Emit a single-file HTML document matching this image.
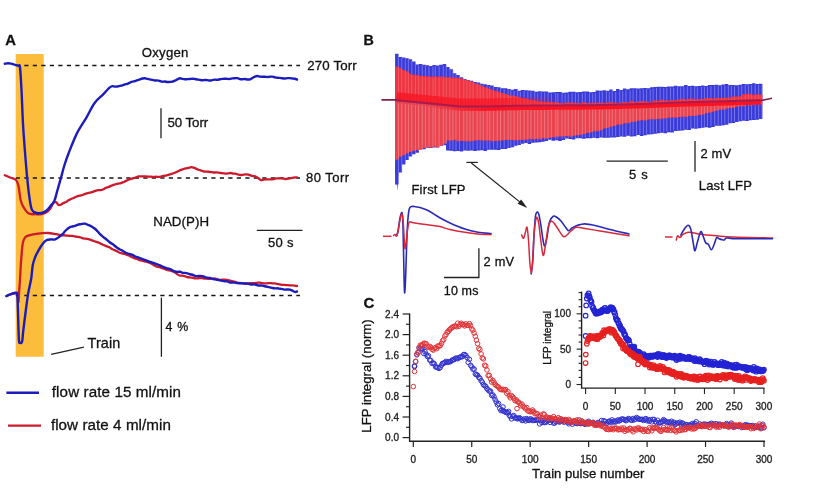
<!DOCTYPE html>
<html><head><meta charset="utf-8"><title>Figure</title>
<style>html,body{margin:0;padding:0;background:#fff;width:840px;height:500px;overflow:hidden} svg{display:block;will-change:transform} text{stroke:#111;stroke-width:0.3px;paint-order:stroke}</style>
</head><body>
<svg width="840" height="500" viewBox="0 0 840 500"><text x="5.2" y="45.2" font-family="Liberation Sans, Arial, sans-serif" font-size="14.8" font-weight="bold" fill="#111">A</text>
<rect x="15.7" y="54" width="28" height="302.7" fill="#FCBC3C"/>
<line x1="15.8" y1="65.4" x2="300" y2="65.4" stroke="#151515" stroke-width="1.5" stroke-dasharray="4.2 4.3"/>
<line x1="15.8" y1="178.0" x2="300" y2="178.0" stroke="#151515" stroke-width="1.5" stroke-dasharray="4.2 4.3"/>
<line x1="15.8" y1="295.5" x2="300" y2="295.5" stroke="#151515" stroke-width="1.5" stroke-dasharray="4.2 4.3"/>
<text x="141.8" y="56.7" font-family="Liberation Sans, Arial, sans-serif" font-size="13.2" letter-spacing="0.22" fill="#111">Oxygen</text>
<text x="307.2" y="69.8" font-family="Liberation Sans, Arial, sans-serif" font-size="13.3" letter-spacing="0.15" fill="#111">270 Torr</text>
<text x="306" y="182.4" font-family="Liberation Sans, Arial, sans-serif" font-size="13" letter-spacing="0.48" fill="#111">80 Torr</text>
<line x1="161" y1="108.2" x2="161" y2="138.3" stroke="#222" stroke-width="1.3"/>
<text x="167.4" y="126.5" font-family="Liberation Sans, Arial, sans-serif" font-size="13.3" letter-spacing="-0.05" fill="#111">50 Torr</text>
<text x="153.2" y="225.9" font-family="Liberation Sans, Arial, sans-serif" font-size="13.3" letter-spacing="0.1" fill="#111">NAD(P)H</text>
<line x1="256.8" y1="230.4" x2="302.5" y2="230.4" stroke="#222" stroke-width="1.3"/>
<text x="268" y="246.8" font-family="Liberation Sans, Arial, sans-serif" font-size="13" letter-spacing="0.3" fill="#111">50 s</text>
<line x1="161.4" y1="297.6" x2="161.4" y2="356.8" stroke="#222" stroke-width="1.3"/>
<text x="165.5" y="331.2" font-family="Liberation Sans, Arial, sans-serif" font-size="12.4" letter-spacing="0.7" fill="#111">4 %</text>
<text x="87.6" y="348" font-family="Liberation Sans, Arial, sans-serif" font-size="14.4" letter-spacing="0.1" fill="#111">Train</text>
<line x1="51.2" y1="354.3" x2="83.9" y2="347.2" stroke="#222" stroke-width="1.2"/>
<line x1="6.4" y1="392.7" x2="39" y2="392.7" stroke="#1c1cbc" stroke-width="2.4"/>
<text x="51.8" y="396.9" font-family="Liberation Sans, Arial, sans-serif" font-size="15.2" letter-spacing="0.1" fill="#111">flow rate 15 ml/min</text>
<line x1="8" y1="425.6" x2="41" y2="425.6" stroke="#cc1a2c" stroke-width="2.4"/>
<text x="50.9" y="430.1" font-family="Liberation Sans, Arial, sans-serif" font-size="15.2" letter-spacing="0.06" fill="#111">flow rate 4 ml/min</text>
<path d="M4.80,175.20 C5.67,175.58 8.13,176.70 10.00,177.50 C11.87,178.30 14.58,178.58 16.00,180.00 C17.42,181.42 17.70,182.53 18.50,186.00 C19.30,189.47 19.88,197.13 20.80,200.80 C21.72,204.47 22.67,205.87 24.00,208.00 C25.33,210.13 26.97,212.57 28.80,213.60 C30.63,214.63 32.87,214.13 35.00,214.20 C37.13,214.27 39.77,214.28 41.60,214.00 C43.43,213.72 44.60,213.33 46.00,212.50 C47.40,211.67 48.92,210.33 50.00,209.00 C51.08,207.67 51.75,205.67 52.50,204.50 C53.25,203.33 53.83,202.33 54.50,202.00 C55.17,201.67 55.82,202.00 56.50,202.50 C57.18,203.00 57.85,204.65 58.60,205.00 C59.35,205.35 60.18,204.92 61.00,204.59 C61.82,204.26 62.67,203.42 63.50,203.00 C64.33,202.58 65.17,202.51 66.00,202.06 C66.83,201.61 67.67,200.82 68.50,200.31 C69.33,199.80 70.17,199.38 71.00,198.99 C71.83,198.61 72.67,198.38 73.50,198.01 C74.33,197.64 75.17,197.11 76.00,196.77 C76.83,196.43 77.67,196.19 78.50,195.97 C79.33,195.75 80.17,195.67 81.00,195.43 C81.83,195.20 82.67,194.86 83.50,194.56 C84.33,194.25 85.17,193.87 86.00,193.60 C86.83,193.33 87.67,193.18 88.50,192.96 C89.33,192.73 90.17,192.49 91.00,192.27 C91.83,192.04 92.67,191.89 93.50,191.61 C94.33,191.32 95.17,190.79 96.00,190.54 C96.83,190.30 97.67,190.22 98.50,190.14 C99.33,190.06 100.17,190.21 101.00,190.06 C101.83,189.90 102.67,189.62 103.50,189.22 C104.33,188.82 105.17,188.06 106.00,187.68 C106.83,187.31 107.67,187.27 108.50,186.97 C109.33,186.67 110.17,186.23 111.00,185.89 C111.83,185.55 112.67,185.23 113.50,184.94 C114.33,184.65 115.17,184.39 116.00,184.16 C116.83,183.94 117.67,183.77 118.50,183.59 C119.33,183.41 120.17,183.35 121.00,183.10 C121.83,182.84 122.67,182.46 123.50,182.09 C124.33,181.71 125.17,181.24 126.00,180.85 C126.83,180.45 127.67,180.06 128.50,179.73 C129.33,179.41 130.17,179.18 131.00,178.91 C131.83,178.64 132.67,178.38 133.50,178.12 C134.33,177.86 135.17,177.63 136.00,177.35 C136.83,177.06 137.67,176.55 138.50,176.40 C139.33,176.25 140.17,176.42 141.00,176.43 C141.83,176.44 142.67,176.46 143.50,176.47 C144.33,176.48 145.17,176.48 146.00,176.50 C146.83,176.52 147.67,176.55 148.50,176.58 C149.33,176.61 150.17,176.65 151.00,176.70 C151.83,176.74 152.67,176.86 153.50,176.87 C154.33,176.88 155.17,176.73 156.00,176.74 C156.83,176.74 157.67,176.92 158.50,176.89 C159.33,176.85 160.17,176.67 161.00,176.51 C161.83,176.36 162.67,176.14 163.50,175.98 C164.33,175.81 165.17,175.69 166.00,175.52 C166.83,175.34 167.67,175.18 168.50,174.93 C169.33,174.68 170.17,174.30 171.00,174.02 C171.83,173.75 172.67,173.57 173.50,173.28 C174.33,172.98 175.17,172.64 176.00,172.27 C176.83,171.89 177.67,171.43 178.50,171.02 C179.33,170.61 180.17,170.15 181.00,169.82 C181.83,169.48 182.67,169.25 183.50,169.01 C184.33,168.77 185.17,168.58 186.00,168.39 C186.83,168.20 187.67,168.06 188.50,167.86 C189.33,167.66 190.17,167.23 191.00,167.19 C191.83,167.15 192.67,167.37 193.50,167.61 C194.33,167.85 195.17,168.27 196.00,168.64 C196.83,169.00 197.67,169.47 198.50,169.78 C199.33,170.09 200.17,170.22 201.00,170.48 C201.83,170.74 202.67,171.17 203.50,171.36 C204.33,171.55 205.17,171.53 206.00,171.59 C206.83,171.66 207.67,171.67 208.50,171.75 C209.33,171.83 210.17,171.94 211.00,172.06 C211.83,172.19 212.67,172.43 213.50,172.49 C214.33,172.56 215.17,172.44 216.00,172.45 C216.83,172.45 217.67,172.42 218.50,172.52 C219.33,172.61 220.17,172.87 221.00,173.00 C221.83,173.13 222.67,173.18 223.50,173.29 C224.33,173.40 225.17,173.64 226.00,173.65 C226.83,173.66 227.67,173.47 228.50,173.37 C229.33,173.26 230.17,172.95 231.00,173.01 C231.83,173.06 232.67,173.55 233.50,173.68 C234.33,173.81 235.17,173.61 236.00,173.77 C236.83,173.94 237.67,174.45 238.50,174.66 C239.33,174.87 240.17,175.04 241.00,175.02 C241.83,175.00 242.67,174.67 243.50,174.55 C244.33,174.43 245.17,174.31 246.00,174.31 C246.83,174.31 247.67,174.35 248.50,174.56 C249.33,174.77 250.17,175.34 251.00,175.59 C251.83,175.85 252.67,175.89 253.50,176.10 C254.33,176.30 255.17,176.43 256.00,176.80 C256.83,177.17 257.67,177.77 258.50,178.32 C259.33,178.86 260.17,179.85 261.00,180.07 C261.83,180.30 262.67,179.77 263.50,179.67 C264.33,179.57 265.17,179.50 266.00,179.45 C266.83,179.39 267.67,179.37 268.50,179.34 C269.33,179.32 270.17,179.34 271.00,179.29 C271.83,179.24 272.67,179.17 273.50,179.04 C274.33,178.90 275.17,178.58 276.00,178.48 C276.83,178.39 277.67,178.47 278.50,178.45 C279.33,178.44 280.17,178.38 281.00,178.40 C281.83,178.42 282.67,178.48 283.50,178.58 C284.33,178.68 285.17,178.99 286.00,178.98 C286.83,178.98 287.67,178.70 288.50,178.55 C289.33,178.41 290.17,178.26 291.00,178.11 C291.83,177.96 292.67,177.77 293.50,177.64 C294.33,177.51 295.42,177.36 296.00,177.32 C296.58,177.28 296.83,177.39 297.00,177.40" fill="none" stroke="#cc1a2c" stroke-width="2.3" stroke-linejoin="round" stroke-linecap="round"/>
<path d="M4.80,63.80 C5.33,63.70 6.97,63.23 8.00,63.20 C9.03,63.17 9.83,63.33 11.00,63.60 C12.17,63.87 13.75,64.43 15.00,64.80 C16.25,65.17 17.67,65.35 18.50,65.80 C19.33,66.25 19.50,63.47 20.00,67.50 C20.50,71.53 21.00,80.58 21.50,90.00 C22.00,99.42 22.42,113.67 23.00,124.00 C23.58,134.33 24.30,143.00 25.00,152.00 C25.70,161.00 26.45,170.33 27.20,178.00 C27.95,185.67 28.70,192.67 29.50,198.00 C30.30,203.33 30.78,207.50 32.00,210.00 C33.22,212.50 35.20,212.50 36.80,213.00 C38.40,213.50 40.07,213.33 41.60,213.00 C43.13,212.67 44.52,212.17 46.00,211.00 C47.48,209.83 49.10,207.70 50.50,206.00 C51.90,204.30 53.23,203.47 54.40,200.80 C55.57,198.13 56.43,193.73 57.50,190.00 C58.57,186.27 59.63,182.57 60.80,178.40 C61.97,174.23 63.17,169.27 64.50,165.00 C65.83,160.73 66.75,158.03 68.80,152.80 C70.85,147.57 73.87,139.47 76.80,133.60 C79.73,127.73 83.47,122.67 86.40,117.60 C89.33,112.53 91.73,106.94 94.40,103.20 C97.07,99.46 100.65,96.95 102.40,95.18 C104.15,93.41 104.07,93.47 104.90,92.56 C105.73,91.66 106.57,90.61 107.40,89.74 C108.23,88.88 109.07,87.98 109.90,87.38 C110.73,86.78 111.57,86.28 112.40,86.15 C113.23,86.03 114.07,86.58 114.90,86.64 C115.73,86.70 116.57,86.64 117.40,86.51 C118.23,86.38 119.07,86.05 119.90,85.85 C120.73,85.65 121.57,85.56 122.40,85.31 C123.23,85.05 124.07,84.56 124.90,84.31 C125.73,84.06 126.57,84.11 127.40,83.83 C128.23,83.54 129.07,82.98 129.90,82.61 C130.73,82.24 131.57,81.85 132.40,81.60 C133.23,81.36 134.07,81.36 134.90,81.13 C135.73,80.90 136.57,80.51 137.40,80.22 C138.23,79.92 139.07,79.62 139.90,79.33 C140.73,79.05 141.57,78.71 142.40,78.52 C143.23,78.33 144.07,78.13 144.90,78.19 C145.73,78.25 146.57,78.66 147.40,78.87 C148.23,79.07 149.07,79.24 149.90,79.41 C150.73,79.59 151.57,79.73 152.40,79.92 C153.23,80.10 154.07,80.43 154.90,80.51 C155.73,80.59 156.57,80.31 157.40,80.39 C158.23,80.47 159.07,80.77 159.90,80.99 C160.73,81.20 161.57,81.59 162.40,81.68 C163.23,81.76 164.07,81.45 164.90,81.50 C165.73,81.55 166.57,81.91 167.40,81.98 C168.23,82.05 169.07,81.97 169.90,81.92 C170.73,81.86 171.57,81.86 172.40,81.66 C173.23,81.46 174.07,81.09 174.90,80.72 C175.73,80.34 176.57,79.80 177.40,79.40 C178.23,78.99 179.07,78.34 179.90,78.26 C180.73,78.19 181.57,78.76 182.40,78.93 C183.23,79.09 184.07,79.20 184.90,79.24 C185.73,79.27 186.57,79.20 187.40,79.16 C188.23,79.12 189.07,79.08 189.90,79.01 C190.73,78.93 191.57,78.69 192.40,78.69 C193.23,78.70 194.07,78.91 194.90,79.04 C195.73,79.16 196.57,79.31 197.40,79.46 C198.23,79.61 199.07,79.80 199.90,79.94 C200.73,80.08 201.57,80.28 202.40,80.29 C203.23,80.30 204.07,80.04 204.90,80.01 C205.73,79.97 206.57,79.98 207.40,80.07 C208.23,80.17 209.07,80.57 209.90,80.57 C210.73,80.58 211.57,80.25 212.40,80.10 C213.23,79.95 214.07,79.72 214.90,79.67 C215.73,79.63 216.57,79.90 217.40,79.84 C218.23,79.78 219.07,79.46 219.90,79.30 C220.73,79.15 221.57,79.02 222.40,78.92 C223.23,78.82 224.07,78.72 224.90,78.71 C225.73,78.71 226.57,78.87 227.40,78.90 C228.23,78.93 229.07,78.96 229.90,78.88 C230.73,78.80 231.57,78.53 232.40,78.41 C233.23,78.30 234.07,78.25 234.90,78.21 C235.73,78.16 236.57,78.02 237.40,78.17 C238.23,78.32 239.07,78.91 239.90,79.09 C240.73,79.26 241.57,79.25 242.40,79.24 C243.23,79.22 244.07,78.97 244.90,79.01 C245.73,79.05 246.57,79.41 247.40,79.47 C248.23,79.54 249.07,79.66 249.90,79.42 C250.73,79.18 251.57,78.52 252.40,78.04 C253.23,77.57 254.07,76.90 254.90,76.57 C255.73,76.23 256.57,76.05 257.40,76.05 C258.23,76.05 259.07,76.47 259.90,76.58 C260.73,76.69 261.57,76.70 262.40,76.73 C263.23,76.75 264.07,76.69 264.90,76.73 C265.73,76.78 266.57,77.01 267.40,77.01 C268.23,77.01 269.07,76.80 269.90,76.73 C270.73,76.66 271.57,76.51 272.40,76.60 C273.23,76.70 274.07,77.10 274.90,77.30 C275.73,77.49 276.57,77.68 277.40,77.78 C278.23,77.89 279.07,77.84 279.90,77.93 C280.73,78.02 281.57,78.22 282.40,78.31 C283.23,78.41 284.07,78.51 284.90,78.48 C285.73,78.46 286.57,78.22 287.40,78.17 C288.23,78.11 289.07,78.11 289.90,78.17 C290.73,78.23 291.57,78.43 292.40,78.53 C293.23,78.63 294.13,78.59 294.90,78.75 C295.67,78.92 296.65,79.38 297.00,79.50" fill="none" stroke="#1c1cbc" stroke-width="2.4" stroke-linejoin="round" stroke-linecap="round"/>
<path d="M6.40,296.20 C7.00,295.92 8.40,294.98 10.00,294.50 C11.60,294.02 14.70,293.05 16.00,293.30 C17.30,293.55 17.38,294.55 17.80,296.00 C18.22,297.45 18.28,302.67 18.50,302.00 C18.72,301.33 18.85,295.67 19.10,292.00 C19.35,288.33 19.72,284.50 20.00,280.00 C20.28,275.50 20.40,270.70 20.80,265.00 C21.20,259.30 21.87,250.07 22.40,245.80 C22.93,241.53 23.33,241.00 24.00,239.40 C24.67,237.80 25.07,237.00 26.40,236.20 C27.73,235.40 29.73,235.08 32.00,234.60 C34.27,234.12 37.33,233.57 40.00,233.30 C42.67,233.03 45.33,232.85 48.00,233.00 C50.67,233.15 53.67,233.80 56.00,234.20 C58.33,234.60 60.58,235.23 62.00,235.41 C63.42,235.60 63.67,235.29 64.50,235.32 C65.33,235.35 66.17,235.48 67.00,235.58 C67.83,235.68 68.67,235.84 69.50,235.91 C70.33,235.97 71.17,235.90 72.00,235.98 C72.83,236.06 73.67,236.24 74.50,236.37 C75.33,236.50 76.17,236.63 77.00,236.74 C77.83,236.85 78.67,236.80 79.50,237.02 C80.33,237.24 81.17,237.81 82.00,238.07 C82.83,238.33 83.67,238.48 84.50,238.60 C85.33,238.71 86.17,238.65 87.00,238.77 C87.83,238.89 88.67,239.07 89.50,239.34 C90.33,239.61 91.17,240.08 92.00,240.40 C92.83,240.72 93.67,240.97 94.50,241.25 C95.33,241.53 96.17,241.80 97.00,242.08 C97.83,242.36 98.67,242.56 99.50,242.94 C100.33,243.31 101.17,243.92 102.00,244.33 C102.83,244.74 103.67,245.07 104.50,245.41 C105.33,245.75 106.17,246.06 107.00,246.38 C107.83,246.71 108.67,246.91 109.50,247.36 C110.33,247.81 111.17,248.63 112.00,249.09 C112.83,249.54 113.67,249.74 114.50,250.09 C115.33,250.44 116.17,250.74 117.00,251.19 C117.83,251.64 118.67,252.42 119.50,252.78 C120.33,253.13 121.17,253.16 122.00,253.34 C122.83,253.52 123.67,253.62 124.50,253.87 C125.33,254.12 126.17,254.54 127.00,254.85 C127.83,255.17 128.67,255.33 129.50,255.74 C130.33,256.15 131.17,256.93 132.00,257.34 C132.83,257.75 133.67,257.93 134.50,258.22 C135.33,258.50 136.17,258.72 137.00,259.03 C137.83,259.34 138.67,259.82 139.50,260.07 C140.33,260.33 141.17,260.30 142.00,260.53 C142.83,260.77 143.67,261.24 144.50,261.48 C145.33,261.71 146.17,261.70 147.00,261.93 C147.83,262.16 148.67,262.52 149.50,262.86 C150.33,263.20 151.17,263.52 152.00,263.98 C152.83,264.44 153.67,265.15 154.50,265.60 C155.33,266.04 156.17,266.39 157.00,266.65 C157.83,266.90 158.67,266.89 159.50,267.13 C160.33,267.37 161.17,267.79 162.00,268.08 C162.83,268.38 163.67,268.60 164.50,268.89 C165.33,269.19 166.17,269.60 167.00,269.87 C167.83,270.14 168.67,270.29 169.50,270.49 C170.33,270.70 171.17,270.83 172.00,271.11 C172.83,271.39 173.67,271.72 174.50,272.19 C175.33,272.67 176.17,273.40 177.00,273.94 C177.83,274.49 178.67,275.18 179.50,275.47 C180.33,275.75 181.17,275.57 182.00,275.67 C182.83,275.76 183.67,275.82 184.50,276.04 C185.33,276.27 186.17,276.82 187.00,277.03 C187.83,277.25 188.67,277.22 189.50,277.34 C190.33,277.45 191.17,277.56 192.00,277.71 C192.83,277.86 193.67,278.16 194.50,278.26 C195.33,278.35 196.17,278.31 197.00,278.30 C197.83,278.28 198.67,278.20 199.50,278.17 C200.33,278.13 201.17,278.02 202.00,278.07 C202.83,278.12 203.67,278.39 204.50,278.49 C205.33,278.59 206.17,278.60 207.00,278.67 C207.83,278.73 208.67,278.88 209.50,278.87 C210.33,278.86 211.17,278.69 212.00,278.62 C212.83,278.56 213.67,278.37 214.50,278.46 C215.33,278.56 216.17,278.97 217.00,279.21 C217.83,279.45 218.67,279.82 219.50,279.90 C220.33,279.98 221.17,279.74 222.00,279.69 C222.83,279.63 223.67,279.54 224.50,279.57 C225.33,279.61 226.17,279.75 227.00,279.90 C227.83,280.05 228.67,280.28 229.50,280.48 C230.33,280.68 231.17,280.92 232.00,281.12 C232.83,281.32 233.67,281.43 234.50,281.69 C235.33,281.95 236.17,282.46 237.00,282.67 C237.83,282.89 238.67,282.89 239.50,282.97 C240.33,283.05 241.17,283.04 242.00,283.13 C242.83,283.23 243.67,283.47 244.50,283.53 C245.33,283.60 246.17,283.59 247.00,283.52 C247.83,283.45 248.67,283.17 249.50,283.11 C250.33,283.04 251.17,283.12 252.00,283.14 C252.83,283.15 253.67,283.26 254.50,283.21 C255.33,283.16 256.17,282.96 257.00,282.85 C257.83,282.75 258.67,282.52 259.50,282.56 C260.33,282.60 261.17,282.96 262.00,283.10 C262.83,283.23 263.67,283.34 264.50,283.37 C265.33,283.40 266.17,283.34 267.00,283.30 C267.83,283.25 268.67,283.11 269.50,283.11 C270.33,283.12 271.17,283.25 272.00,283.31 C272.83,283.37 273.67,283.37 274.50,283.45 C275.33,283.53 276.17,283.63 277.00,283.80 C277.83,283.96 278.67,284.26 279.50,284.43 C280.33,284.60 281.17,284.75 282.00,284.83 C282.83,284.90 283.67,284.85 284.50,284.90 C285.33,284.94 286.17,285.02 287.00,285.09 C287.83,285.17 288.67,285.29 289.50,285.35 C290.33,285.41 291.17,285.41 292.00,285.46 C292.83,285.52 293.67,285.59 294.50,285.68 C295.33,285.77 296.58,285.95 297.00,286.00" fill="none" stroke="#cc1a2c" stroke-width="2.3" stroke-linejoin="round" stroke-linecap="round"/>
<path d="M6.40,296.00 C6.93,295.78 8.00,295.23 9.60,294.70 C11.20,294.17 14.72,292.72 16.00,292.80 C17.28,292.88 16.97,292.00 17.30,295.20 C17.63,298.40 17.73,304.65 18.00,312.00 C18.27,319.35 18.57,334.17 18.90,339.30 C19.23,344.43 19.47,342.40 20.00,342.80 C20.53,343.20 21.57,343.62 22.10,341.70 C22.63,339.78 22.62,336.25 23.20,331.30 C23.78,326.35 24.80,318.15 25.60,312.00 C26.40,305.85 27.33,298.67 28.00,294.40 C28.67,290.13 29.05,289.13 29.60,286.40 C30.15,283.67 30.77,281.57 31.30,278.00 C31.83,274.43 32.15,268.50 32.80,265.00 C33.45,261.50 34.27,259.40 35.20,257.00 C36.13,254.60 37.20,252.73 38.40,250.60 C39.60,248.47 41.07,245.93 42.40,244.20 C43.73,242.47 44.93,241.00 46.40,240.20 C47.87,239.40 49.73,239.53 51.20,239.40 C52.67,239.27 53.73,239.91 55.20,239.40 C56.67,238.89 58.78,237.21 60.00,236.34 C61.22,235.47 61.67,235.02 62.50,234.18 C63.33,233.33 64.17,232.13 65.00,231.25 C65.83,230.38 66.67,229.61 67.50,228.91 C68.33,228.21 69.17,227.48 70.00,227.08 C70.83,226.68 71.67,226.68 72.50,226.48 C73.33,226.28 74.17,226.14 75.00,225.88 C75.83,225.62 76.67,225.17 77.50,224.90 C78.33,224.63 79.17,224.43 80.00,224.26 C80.83,224.08 81.67,223.92 82.50,223.83 C83.33,223.73 84.17,223.54 85.00,223.68 C85.83,223.83 86.67,224.40 87.50,224.72 C88.33,225.03 89.17,225.19 90.00,225.57 C90.83,225.96 91.67,226.52 92.50,227.04 C93.33,227.57 94.17,228.03 95.00,228.74 C95.83,229.45 96.67,230.41 97.50,231.31 C98.33,232.21 99.17,233.31 100.00,234.16 C100.83,235.00 101.67,235.71 102.50,236.40 C103.33,237.08 104.17,237.61 105.00,238.27 C105.83,238.93 106.67,239.63 107.50,240.34 C108.33,241.06 109.17,241.92 110.00,242.54 C110.83,243.17 111.67,243.52 112.50,244.10 C113.33,244.68 114.17,245.39 115.00,246.04 C115.83,246.69 116.67,247.42 117.50,248.00 C118.33,248.58 119.17,249.04 120.00,249.50 C120.83,249.96 121.67,250.29 122.50,250.74 C123.33,251.20 124.17,251.78 125.00,252.23 C125.83,252.67 126.67,253.11 127.50,253.42 C128.33,253.73 129.17,253.84 130.00,254.10 C130.83,254.35 131.67,254.58 132.50,254.96 C133.33,255.33 134.17,255.99 135.00,256.34 C135.83,256.70 136.67,256.80 137.50,257.08 C138.33,257.36 139.17,257.68 140.00,258.01 C140.83,258.33 141.67,258.73 142.50,259.05 C143.33,259.37 144.17,259.64 145.00,259.95 C145.83,260.25 146.67,260.54 147.50,260.88 C148.33,261.22 149.17,261.69 150.00,261.97 C150.83,262.25 151.67,262.31 152.50,262.56 C153.33,262.82 154.17,263.21 155.00,263.53 C155.83,263.85 156.67,264.18 157.50,264.48 C158.33,264.79 159.17,265.01 160.00,265.35 C160.83,265.69 161.67,266.16 162.50,266.53 C163.33,266.90 164.17,267.25 165.00,267.56 C165.83,267.86 166.67,268.08 167.50,268.35 C168.33,268.63 169.17,268.86 170.00,269.18 C170.83,269.51 171.67,269.93 172.50,270.32 C173.33,270.71 174.17,271.25 175.00,271.50 C175.83,271.75 176.67,271.78 177.50,271.83 C178.33,271.87 179.17,271.60 180.00,271.77 C180.83,271.94 181.67,272.66 182.50,272.84 C183.33,273.02 184.17,272.80 185.00,272.88 C185.83,272.95 186.67,273.07 187.50,273.29 C188.33,273.52 189.17,273.98 190.00,274.23 C190.83,274.47 191.67,274.48 192.50,274.76 C193.33,275.04 194.17,275.67 195.00,275.90 C195.83,276.13 196.67,276.15 197.50,276.15 C198.33,276.15 199.17,275.91 200.00,275.90 C200.83,275.88 201.67,275.87 202.50,276.06 C203.33,276.25 204.17,276.74 205.00,277.02 C205.83,277.30 206.67,277.57 207.50,277.74 C208.33,277.91 209.17,277.84 210.00,278.04 C210.83,278.24 211.67,278.73 212.50,278.96 C213.33,279.19 214.17,279.24 215.00,279.39 C215.83,279.54 216.67,279.72 217.50,279.86 C218.33,280.01 219.17,280.08 220.00,280.26 C220.83,280.44 221.67,280.76 222.50,280.93 C223.33,281.10 224.17,281.20 225.00,281.28 C225.83,281.36 226.67,281.20 227.50,281.41 C228.33,281.62 229.17,282.36 230.00,282.54 C230.83,282.71 231.67,282.45 232.50,282.46 C233.33,282.48 234.17,282.54 235.00,282.65 C235.83,282.77 236.67,283.08 237.50,283.17 C238.33,283.26 239.17,283.15 240.00,283.19 C240.83,283.22 241.67,283.31 242.50,283.37 C243.33,283.43 244.17,283.50 245.00,283.54 C245.83,283.57 246.67,283.46 247.50,283.60 C248.33,283.74 249.17,284.24 250.00,284.38 C250.83,284.52 251.67,284.44 252.50,284.45 C253.33,284.46 254.17,284.32 255.00,284.45 C255.83,284.57 256.67,285.03 257.50,285.21 C258.33,285.39 259.17,285.44 260.00,285.51 C260.83,285.58 261.67,285.50 262.50,285.63 C263.33,285.75 264.17,286.07 265.00,286.27 C265.83,286.47 266.67,286.65 267.50,286.83 C268.33,287.02 269.17,287.21 270.00,287.40 C270.83,287.58 271.67,287.80 272.50,287.95 C273.33,288.11 274.17,288.28 275.00,288.34 C275.83,288.40 276.67,288.25 277.50,288.32 C278.33,288.39 279.17,288.62 280.00,288.75 C280.83,288.88 281.67,288.94 282.50,289.08 C283.33,289.22 284.17,289.52 285.00,289.58 C285.83,289.65 286.67,289.46 287.50,289.46 C288.33,289.46 289.17,289.38 290.00,289.58 C290.83,289.79 291.67,290.32 292.50,290.71 C293.33,291.10 294.25,291.78 295.00,291.91 C295.75,292.04 296.67,291.57 297.00,291.50" fill="none" stroke="#1c1cbc" stroke-width="2.4" stroke-linejoin="round" stroke-linecap="round"/>
<text x="363.6" y="45.2" font-family="Liberation Sans, Arial, sans-serif" font-size="14.3" font-weight="bold" fill="#111">B</text>
<path d="M396.80,53.87V184.57M400.20,56.98V172.42M403.60,57.58V164.48M407.00,58.17V160.10M410.40,59.32V156.60M413.80,61.56V154.20M417.20,64.45V152.76M420.60,64.03V149.21M424.00,64.74V149.16M427.40,65.26V147.87M430.80,65.91V147.96M434.20,65.05V147.62M437.60,65.53V147.47M441.00,64.66V146.09M444.40,63.94V145.16M447.80,67.09V150.40M451.20,69.26V150.83M454.60,73.13V151.32M458.00,75.04V151.07M461.40,77.27V151.40M464.80,78.93V150.47M468.20,79.89V150.63M471.60,80.71V150.62M475.00,81.99V150.90M478.40,82.41V150.58M481.80,83.65V150.24M485.20,84.28V150.89M488.60,84.97V149.80M492.00,85.62V149.87M495.40,87.09V149.86M498.80,87.27V149.98M502.20,88.32V149.01M505.60,88.23V149.03M509.00,88.91V148.10M512.40,89.67V147.36M515.80,89.07V145.73M519.20,90.80V145.11M522.60,89.97V143.70M526.00,90.32V142.98M529.40,90.45V143.89M532.80,90.84V142.64M536.20,91.72V142.53M539.60,91.14V142.32M543.00,91.59V141.71M546.40,91.40V140.95M549.80,92.38V139.69M553.20,92.23V140.77M556.60,92.00V140.37M560.00,91.92V140.98M563.40,92.68V140.00M566.80,92.55V138.58M570.20,91.73V139.03M573.60,91.71V139.57M577.00,92.31V138.24M580.40,92.02V138.24M583.80,91.56V138.83M587.20,91.57V138.33M590.60,92.31V138.15M594.00,92.08V137.63M597.40,90.60V138.14M600.80,90.73V137.46M604.20,90.30V137.71M607.60,90.75V137.78M611.00,89.49V137.58M614.40,90.96V137.45M617.80,89.00V137.06M621.20,90.04V136.42M624.60,88.60V136.69M628.00,89.21V135.65M631.40,88.32V136.43M634.80,88.28V136.20M638.20,88.52V135.05M641.60,88.19V136.09M645.00,87.88V135.25M648.40,88.20V134.60M651.80,87.36V134.26M655.20,86.91V133.83M658.60,86.63V133.13M662.00,86.85V132.75M665.40,87.09V133.27M668.80,86.46V132.36M672.20,86.53V132.38M675.60,85.84V130.97M679.00,86.24V130.64M682.40,86.18V130.40M685.80,85.07V129.69M689.20,86.06V130.07M692.60,85.71V128.55M696.00,86.35V128.64M699.40,85.91V128.23M702.80,85.61V127.79M706.20,85.91V127.27M709.60,85.07V127.70M713.00,84.93V127.09M716.40,84.74V125.69M719.80,85.19V125.72M723.20,84.47V125.24M726.60,84.01V124.63M730.00,85.10V123.17M733.40,85.06V123.07M736.80,85.13V121.98M740.20,84.65V121.34M743.60,84.02V120.81M747.00,84.32V120.93M750.40,83.91V120.30M753.80,83.24V119.89M757.20,83.92V119.65M760.60,83.66V119.09" stroke="#3a3ad8" stroke-width="3.4499999999999997" fill="none"/>
<polygon points="395.3,165 399,165 397.3,191" fill="#3a3ad8"/>
<path d="M398.42,54.87V183.40M401.76,57.98V171.45M405.32,58.58V163.13M408.37,59.17V159.32M411.79,60.32V155.68M415.43,62.56V152.95M418.66,65.45V150.97M422.26,65.03V148.58M425.52,65.74V147.90M429.02,66.26V147.22M432.95,66.91V146.62M435.33,66.05V146.28M439.10,66.53V145.94M443.28,65.66V145.03M446.25,64.94V143.80M449.92,68.09V149.14M452.94,70.26V149.73M456.01,74.13V150.33M459.53,76.04V150.27M463.75,78.27V150.13M466.87,79.93V149.99M469.99,80.89V149.84M473.09,81.71V149.70M477.10,82.99V149.56M480.17,83.41V149.41M483.28,84.65V149.27M487.07,85.28V149.12M489.80,85.97V148.98M493.49,86.62V148.84M497.25,88.09V148.69M500.50,88.27V148.55M504.20,89.32V148.30M508.10,89.23V148.00M510.81,89.91V147.69M514.06,90.67V146.62M517.69,90.07V145.22M520.29,91.80V143.83M524.13,90.97V143.11M527.83,91.32V142.60M530.94,91.45V142.09M534.73,91.84V141.58M537.78,92.72V141.07M541.20,92.14V140.56M544.63,92.59V140.28M548.05,92.40V140.02M551.41,93.38V139.77M555.74,93.23V139.51M557.91,93.00V139.26M562.03,92.92V139.00M565.15,93.68V138.76M568.23,93.55V138.52M572.09,92.73V138.29M575.41,92.71V138.05M578.35,93.31V137.81M582.31,93.02V137.59M585.31,92.56V137.47M589.45,92.57V137.35M592.68,93.31V137.23M595.37,93.08V137.11M599.37,91.60V136.99M602.25,91.73V136.87M606.39,91.30V136.73M609.25,91.75V136.60M612.26,90.49V136.46M615.70,91.96V136.32M619.74,90.00V136.19M622.73,91.04V136.02M626.03,89.60V135.78M630.09,90.21V135.54M633.08,89.32V135.30M636.54,89.28V135.06M639.99,89.52V134.83M643.38,89.19V134.49M646.60,88.88V134.05M650.26,89.20V133.61M653.10,88.36V133.17M656.51,87.91V132.72M660.15,87.63V132.28M663.73,87.85V131.86M666.81,88.09V131.45M670.57,87.46V131.04M673.69,87.53V130.64M677.52,86.84V130.23M680.71,87.24V129.82M683.89,87.18V129.41M687.35,86.07V129.00M690.89,87.06V128.60M694.68,86.71V128.19M697.29,87.35V127.78M701.46,86.91V127.37M704.38,86.61V126.91M707.46,86.91V126.43M710.97,86.07V125.96M714.70,85.93V125.48M718.20,85.74V125.00M721.48,86.19V124.53M724.80,85.47V123.89M728.34,85.01V123.25M731.38,86.10V122.60M734.51,86.06V121.95M738.63,86.13V121.31M741.69,85.65V120.67M745.25,85.02V120.21M748.49,85.32V119.76M751.58,84.91V119.30M755.20,84.24V118.84M758.66,84.92V118.38M762.08,84.66V117.92" stroke="#8c8cf4" stroke-width="0.9" fill="none" opacity="0.8"/>
<path d="M396.80,66.47V101.28M400.20,67.79V101.60M403.60,69.97V101.93M407.00,71.17V102.25M410.40,73.85V102.58M413.80,74.79V102.91M417.20,75.05V103.23M420.60,75.63V103.56M424.00,76.02V103.90M427.40,76.33V104.24M430.80,76.84V104.58M434.20,76.15V104.92M437.60,76.77V105.26M441.00,76.61V105.60M444.40,76.99V105.94M447.80,77.21V106.28M451.20,77.54V106.62M454.60,77.53V106.96M458.00,77.95V107.30M461.40,78.59V107.51M464.80,79.68V107.52M468.20,80.33V107.54M471.60,81.52V107.56M475.00,83.15V107.57M478.40,84.13V107.59M481.80,85.77V107.56M485.20,87.22V107.48M488.60,88.53V107.41M492.00,89.60V107.33M495.40,90.81V107.25M498.80,91.78V107.18M502.20,93.12V107.10M505.60,93.87V107.02M509.00,95.18V106.95M512.40,95.45V106.87M515.80,96.35V106.79M519.20,97.05V106.72M522.60,98.01V106.68M526.00,98.59V106.66M529.40,99.69V106.63M532.80,100.02V106.60M536.20,100.69V106.58M539.60,101.28V106.55M543.00,101.69V106.53M546.40,101.69V106.50M549.80,102.09V106.48M553.20,102.21V106.45M556.60,102.36V106.43M560.00,103.02V106.40M563.40,103.35V106.37M566.80,102.58V106.35M570.20,102.58V106.32M573.60,102.73V106.30M577.00,103.06V106.27M580.40,103.34V106.25M583.80,102.32V106.22M587.20,103.09V106.20M590.60,102.93V106.17M594.00,102.77V106.15M597.40,102.63V106.12M600.80,102.79V106.08M604.20,102.98V105.98M607.60,102.50V105.89M611.00,102.10V105.80M614.40,102.79V105.70M617.80,102.69V105.61M621.20,102.40V105.52M624.60,102.06V105.42M628.00,102.35V105.33M631.40,101.08V105.24M634.80,101.91V105.14M638.20,101.41V105.05M641.60,101.35V104.94M645.00,101.24V104.80M648.40,101.66V104.66M651.80,101.38V104.53M655.20,100.26V104.39M658.60,100.74V104.26M662.00,99.63V104.12M665.40,100.44V103.98M668.80,100.42V103.85M672.20,99.93V103.71M675.60,99.90V103.58M679.00,99.57V103.44M682.40,98.76V103.34M685.80,99.49V103.24M689.20,98.73V103.15M692.60,98.85V103.06M696.00,99.40V102.97M699.40,98.88V102.88M702.80,98.89V102.78M706.20,98.29V102.69M709.60,98.09V102.60M713.00,98.51V102.51M716.40,97.85V102.42M719.80,97.96V102.33M723.20,97.85V102.23M726.60,97.71V102.14M730.00,97.53V102.05M733.40,96.46V101.96M736.80,96.41V101.87M740.20,96.16V101.77M743.60,94.32V101.68M747.00,93.69V101.59M750.40,93.75V101.50M753.80,94.66V101.41M757.20,94.28V101.32M760.60,94.48V101.22" stroke="#ee3442" stroke-width="3.4499999999999997" fill="none"/>
<path d="M398.42,67.47V99.28M401.76,68.79V99.60M405.32,70.97V99.93M408.37,72.17V100.25M411.79,74.85V100.58M415.43,75.79V100.91M418.66,76.05V101.23M422.26,76.63V101.56M425.52,77.02V101.90M429.02,77.33V102.24M432.95,77.84V102.58M435.33,77.15V102.92M439.10,77.77V103.26M443.28,77.61V103.60M446.25,77.99V103.94M449.92,78.21V104.28M452.94,78.54V104.62M456.01,78.53V104.96M459.53,78.95V105.30M463.75,79.59V105.51M466.87,80.68V105.52M469.99,81.33V105.54M473.09,82.52V105.56M477.10,84.15V105.57M480.17,85.13V105.59M483.28,86.77V105.56M487.07,88.22V105.48M489.80,89.53V105.41M493.49,90.60V105.33M497.25,91.81V105.25M500.50,92.78V105.18M504.20,94.12V105.10M508.10,94.87V105.02M510.81,96.18V104.95M514.06,96.45V104.87M517.69,97.35V104.79M520.29,98.05V104.72M524.13,99.01V104.68M527.83,99.59V104.66M530.94,100.69V104.63M534.73,101.02V104.60M537.78,101.69V104.58M541.20,102.28V104.55M544.63,102.69V104.53M548.05,102.69V104.50M551.41,103.09V104.48M555.74,103.21V104.45M557.91,103.36V104.43M562.03,104.02V104.40M565.15,104.35V104.37M568.23,103.58V104.35M572.09,103.58V104.32M575.41,103.73V104.30M578.35,104.06V104.27M582.31,104.34V104.25M585.31,103.32V104.22M589.45,104.09V104.20M592.68,103.93V104.17M595.37,103.77V104.15M599.37,103.63V104.12M602.25,103.79V104.08M606.39,103.98V103.98M609.25,103.50V103.89M612.26,103.10V103.80M615.70,103.79V103.70M619.74,103.69V103.61M622.73,103.40V103.52M626.03,103.06V103.42M630.09,103.35V103.33M633.08,102.08V103.24M636.54,102.91V103.14M639.99,102.41V103.05M643.38,102.35V102.94M646.60,102.24V102.80M650.26,102.66V102.66M653.10,102.38V102.53M656.51,101.26V102.39M660.15,101.74V102.26M663.73,100.63V102.12M666.81,101.44V101.98M670.57,101.42V101.85M673.69,100.93V101.71M677.52,100.90V101.58M680.71,100.57V101.44M683.89,99.76V101.34M687.35,100.49V101.24M690.89,99.73V101.15M694.68,99.85V101.06M697.29,100.40V100.97M701.46,99.88V100.88M704.38,99.89V100.78M707.46,99.29V100.69M710.97,99.09V100.60M714.70,99.51V100.51M718.20,98.85V100.42M721.48,98.96V100.33M724.80,98.85V100.23M728.34,98.71V100.14M731.38,98.53V100.05M734.51,97.46V99.96M738.63,97.41V99.87M741.69,97.16V99.77M745.25,95.32V99.68M748.49,94.69V99.59M751.58,94.75V99.50M755.20,95.66V99.41M758.66,95.28V99.32M762.08,95.48V99.22" stroke="#f87880" stroke-width="0.8" fill="none" opacity="0.7"/>
<path d="M396.80,101.28V159.64M400.20,101.60V156.85M403.60,101.93V155.15M407.00,102.25V153.34M410.40,102.58V152.06M413.80,102.91V150.78M417.20,103.23V149.98M420.60,103.56V149.77M424.00,103.90V148.09M427.40,104.24V147.23M430.80,104.58V147.81M434.20,104.92V146.87M437.60,105.26V147.36M441.00,105.60V145.90M444.40,105.94V143.79M447.80,106.28V140.51M451.20,106.62V140.71M454.60,106.96V139.98M458.00,107.30V141.13M461.40,107.51V140.88M464.80,107.52V141.16M468.20,107.54V141.16M471.60,107.56V141.17M475.00,107.57V140.60M478.40,107.59V140.25M481.80,107.56V140.61M485.20,107.48V140.63M488.60,107.41V140.60M492.00,107.33V141.19M495.40,107.25V141.03M498.80,107.18V140.73M502.20,107.10V140.57M505.60,107.02V140.05M509.00,106.95V140.01M512.40,106.87V140.08M515.80,106.79V140.51M519.20,106.72V139.99M522.60,106.68V140.03M526.00,106.66V139.64M529.40,106.63V139.26M532.80,106.60V139.21M536.20,106.58V138.92M539.60,106.55V139.23M543.00,106.53V138.32M546.40,106.50V138.40M549.80,106.48V137.67M553.20,106.45V137.27M556.60,106.43V136.80M560.00,106.40V136.62M563.40,106.37V136.54M566.80,106.35V136.02M570.20,106.32V136.64M573.60,106.30V135.76M577.00,106.27V135.25M580.40,106.25V135.08M583.80,106.22V134.08M587.20,106.20V132.91M590.60,106.17V132.45M594.00,106.15V131.13M597.40,106.12V131.18M600.80,106.08V130.25M604.20,105.98V128.51M607.60,105.89V127.71M611.00,105.80V126.69M614.40,105.70V126.00M617.80,105.61V124.69M621.20,105.52V124.48M624.60,105.42V123.34M628.00,105.33V123.16M631.40,105.24V122.10M634.80,105.14V121.74M638.20,105.05V120.65M641.60,104.94V120.30M645.00,104.80V120.62M648.40,104.66V119.38M651.80,104.53V119.22M655.20,104.39V119.39M658.60,104.26V118.89M662.00,104.12V118.65M665.40,103.98V118.49M668.80,103.85V117.81M672.20,103.71V117.59M675.60,103.58V117.81M679.00,103.44V116.97M682.40,103.34V116.67M685.80,103.24V117.01M689.20,103.15V116.07M692.60,103.06V116.11M696.00,102.97V115.63M699.40,102.88V115.02M702.80,102.78V114.42M706.20,102.69V113.32M709.60,102.60V112.70M713.00,102.51V111.67M716.40,102.42V110.75M719.80,102.33V109.77M723.20,102.23V109.85M726.60,102.14V108.43M730.00,102.05V108.18M733.40,101.96V107.96M736.80,101.87V106.87M740.20,101.77V106.27M743.60,101.68V106.26M747.00,101.59V104.82M750.40,101.50V105.40M753.80,101.41V104.75M757.20,101.32V104.02M760.60,101.22V104.45" stroke="#e8434f" stroke-width="3.4499999999999997" fill="none"/>
<path d="M398.42,103.28V159.14M401.76,103.60V156.35M405.32,103.93V154.65M408.37,104.25V152.84M411.79,104.58V151.56M415.43,104.91V150.28M418.66,105.23V149.48M422.26,105.56V149.27M425.52,105.90V147.59M429.02,106.24V146.73M432.95,106.58V147.31M435.33,106.92V146.37M439.10,107.26V146.86M443.28,107.60V145.40M446.25,107.94V143.29M449.92,108.28V140.01M452.94,108.62V140.21M456.01,108.96V139.48M459.53,109.30V140.63M463.75,109.51V140.38M466.87,109.52V140.66M469.99,109.54V140.66M473.09,109.56V140.67M477.10,109.57V140.10M480.17,109.59V139.75M483.28,109.56V140.11M487.07,109.48V140.13M489.80,109.41V140.10M493.49,109.33V140.69M497.25,109.25V140.53M500.50,109.18V140.23M504.20,109.10V140.07M508.10,109.02V139.55M510.81,108.95V139.51M514.06,108.87V139.58M517.69,108.79V140.01M520.29,108.72V139.49M524.13,108.68V139.53M527.83,108.66V139.14M530.94,108.63V138.76M534.73,108.60V138.71M537.78,108.58V138.42M541.20,108.55V138.73M544.63,108.53V137.82M548.05,108.50V137.90M551.41,108.48V137.17M555.74,108.45V136.77M557.91,108.43V136.30M562.03,108.40V136.12M565.15,108.37V136.04M568.23,108.35V135.52M572.09,108.32V136.14M575.41,108.30V135.26M578.35,108.27V134.75M582.31,108.25V134.58M585.31,108.22V133.58M589.45,108.20V132.41M592.68,108.17V131.95M595.37,108.15V130.63M599.37,108.12V130.68M602.25,108.08V129.75M606.39,107.98V128.01M609.25,107.89V127.21M612.26,107.80V126.19M615.70,107.70V125.50M619.74,107.61V124.19M622.73,107.52V123.98M626.03,107.42V122.84M630.09,107.33V122.66M633.08,107.24V121.60M636.54,107.14V121.24M639.99,107.05V120.15M643.38,106.94V119.80M646.60,106.80V120.12M650.26,106.66V118.88M653.10,106.53V118.72M656.51,106.39V118.89M660.15,106.26V118.39M663.73,106.12V118.15M666.81,105.98V117.99M670.57,105.85V117.31M673.69,105.71V117.09M677.52,105.58V117.31M680.71,105.44V116.47M683.89,105.34V116.17M687.35,105.24V116.51M690.89,105.15V115.57M694.68,105.06V115.61M697.29,104.97V115.13M701.46,104.88V114.52M704.38,104.78V113.92M707.46,104.69V112.82M710.97,104.60V112.20M714.70,104.51V111.17M718.20,104.42V110.25M721.48,104.33V109.27M724.80,104.23V109.35M728.34,104.14V107.93M731.38,104.05V107.68M734.51,103.96V107.46M738.63,103.87V106.37M741.69,103.77V105.77M745.25,103.68V105.76M748.49,103.59V104.32M751.58,103.50V104.90M755.20,103.41V104.25M758.66,103.32V103.52M762.08,103.22V103.95" stroke="#f8a0a4" stroke-width="0.9" fill="none" opacity="0.6"/>
<defs><linearGradient id="gU" gradientUnits="userSpaceOnUse" x1="396" y1="0" x2="762" y2="0"><stop offset="0" stop-color="#f81422" stop-opacity="0.8"/><stop offset="0.27" stop-color="#f81422" stop-opacity="0.7"/><stop offset="0.45" stop-color="#f81422" stop-opacity="0"/></linearGradient><linearGradient id="gL" gradientUnits="userSpaceOnUse" x1="396" y1="0" x2="762" y2="0"><stop offset="0.08" stop-color="#ff1020" stop-opacity="0"/><stop offset="0.25" stop-color="#ff1020" stop-opacity="0.95"/><stop offset="1" stop-color="#ff1020" stop-opacity="0.95"/></linearGradient></defs>
<path d="M396.80,96.28 C397.13,96.31 398.13,96.40 398.80,96.47 C399.47,96.53 400.13,96.60 400.80,96.66 C401.47,96.72 402.13,96.79 402.80,96.85 C403.47,96.92 404.13,96.98 404.80,97.04 C405.47,97.11 406.13,97.17 406.80,97.23 C407.47,97.30 408.13,97.36 408.80,97.43 C409.47,97.49 410.13,97.55 410.80,97.62 C411.47,97.68 412.13,97.75 412.80,97.81 C413.47,97.87 414.13,97.94 414.80,98.00 C415.47,98.07 416.13,98.13 416.80,98.19 C417.47,98.26 418.13,98.32 418.80,98.39 C419.47,98.45 420.13,98.51 420.80,98.58 C421.47,98.65 422.13,98.71 422.80,98.78 C423.47,98.85 424.13,98.91 424.80,98.98 C425.47,99.05 426.13,99.11 426.80,99.18 C427.47,99.25 428.13,99.31 428.80,99.38 C429.47,99.45 430.13,99.51 430.80,99.58 C431.47,99.65 432.13,99.71 432.80,99.78 C433.47,99.85 434.13,99.91 434.80,99.98 C435.47,100.05 436.13,100.11 436.80,100.18 C437.47,100.25 438.13,100.31 438.80,100.38 C439.47,100.45 440.13,100.51 440.80,100.58 C441.47,100.65 442.13,100.71 442.80,100.78 C443.47,100.85 444.13,100.91 444.80,100.98 C445.47,101.05 446.13,101.11 446.80,101.18 C447.47,101.25 448.13,101.31 448.80,101.38 C449.47,101.45 450.13,101.51 450.80,101.58 C451.47,101.65 452.13,101.71 452.80,101.78 C453.47,101.85 454.13,101.91 454.80,101.98 C455.47,102.05 456.13,102.11 456.80,102.18 C457.47,102.25 458.13,102.33 458.80,102.38 C459.47,102.43 460.13,102.48 460.80,102.50 C461.47,102.53 462.13,102.51 462.80,102.51 C463.47,102.52 464.13,102.52 464.80,102.52 C465.47,102.53 466.13,102.53 466.80,102.53 C467.47,102.54 468.13,102.54 468.80,102.54 C469.47,102.55 470.13,102.55 470.80,102.55 C471.47,102.56 472.13,102.56 472.80,102.56 C473.47,102.57 474.13,102.57 474.80,102.57 C475.47,102.58 476.13,102.58 476.80,102.58 C477.47,102.59 478.13,102.59 478.80,102.59 C479.47,102.59 480.13,102.59 480.80,102.58 C481.47,102.57 482.13,102.55 482.80,102.54 C483.47,102.52 484.13,102.51 484.80,102.49 C485.47,102.48 486.13,102.46 486.80,102.45 C487.47,102.43 488.13,102.42 488.80,102.40 C489.47,102.39 490.13,102.37 490.80,102.36 C491.47,102.34 492.13,102.33 492.80,102.31 C493.47,102.30 494.13,102.28 494.80,102.27 C495.47,102.25 496.13,102.24 496.80,102.22 C497.47,102.21 498.13,102.19 498.80,102.18 C499.47,102.16 500.13,102.15 500.80,102.13 C501.47,102.12 502.13,102.10 502.80,102.09 C503.47,102.07 504.13,102.06 504.80,102.04 C505.47,102.03 506.13,102.01 506.80,102.00 C507.47,101.98 508.13,101.97 508.80,101.95 C509.47,101.94 510.13,101.92 510.80,101.91 C511.47,101.89 512.13,101.88 512.80,101.86 C513.47,101.85 514.13,101.83 514.80,101.82 C515.47,101.80 516.13,101.79 516.80,101.77 C517.47,101.76 518.13,101.74 518.80,101.73 C519.47,101.71 520.13,101.70 520.80,101.69 C521.47,101.69 522.13,101.68 522.80,101.68 C523.47,101.67 524.13,101.67 524.80,101.66 C525.47,101.66 526.13,101.65 526.80,101.65 C527.47,101.64 528.13,101.64 528.80,101.63 C529.47,101.63 530.13,101.62 530.80,101.62 C531.47,101.61 532.13,101.61 532.80,101.60 C533.47,101.60 534.13,101.59 534.80,101.59 C535.47,101.58 536.13,101.58 536.80,101.57 C537.47,101.57 538.13,101.56 538.80,101.56 C539.47,101.55 540.13,101.55 540.80,101.54 C541.47,101.54 542.13,101.53 542.80,101.53 C543.47,101.52 544.13,101.52 544.80,101.51 C545.47,101.51 546.13,101.50 546.80,101.50 C547.47,101.49 548.13,101.49 548.80,101.48 C549.47,101.48 550.13,101.47 550.80,101.47 C551.47,101.46 552.13,101.46 552.80,101.45 C553.47,101.45 554.13,101.44 554.80,101.44 C555.47,101.43 556.13,101.43 556.80,101.42 C557.47,101.42 558.13,101.41 558.80,101.41 C559.47,101.40 560.13,101.40 560.80,101.39 C561.47,101.39 562.13,101.38 562.80,101.38 C563.47,101.37 564.13,101.37 564.80,101.36 C565.47,101.36 566.13,101.35 566.80,101.35 C567.47,101.34 568.13,101.34 568.80,101.33 C569.47,101.33 570.13,101.32 570.80,101.32 C571.47,101.31 572.13,101.31 572.80,101.30 C573.47,101.30 574.13,101.29 574.80,101.29 C575.47,101.28 576.13,101.28 576.80,101.27 C577.47,101.27 578.13,101.26 578.80,101.26 C579.47,101.25 580.13,101.25 580.80,101.24 C581.47,101.24 582.13,101.23 582.80,101.23 C583.47,101.22 584.13,101.22 584.80,101.21 C585.47,101.21 586.13,101.20 586.80,101.20 C587.47,101.19 588.13,101.19 588.80,101.18 C589.47,101.18 590.13,101.17 590.80,101.17 C591.47,101.16 592.13,101.16 592.80,101.15 C593.47,101.15 594.13,101.14 594.80,101.14 C595.47,101.13 596.13,101.13 596.80,101.12 C597.47,101.12 598.13,101.12 598.80,101.11 C599.47,101.10 600.13,101.09 600.80,101.08 C601.47,101.06 602.13,101.04 602.80,101.02 C603.47,101.00 604.13,100.99 604.80,100.97 C605.47,100.95 606.13,100.93 606.80,100.91 C607.47,100.89 608.13,100.88 608.80,100.86 C609.47,100.84 610.13,100.82 610.80,100.80 C611.47,100.78 612.13,100.77 612.80,100.75 C613.47,100.73 614.13,100.71 614.80,100.69 C615.47,100.67 616.13,100.66 616.80,100.64 C617.47,100.62 618.13,100.60 618.80,100.58 C619.47,100.56 620.13,100.55 620.80,100.53 C621.47,100.51 622.13,100.49 622.80,100.47 C623.47,100.45 624.13,100.44 624.80,100.42 C625.47,100.40 626.13,100.38 626.80,100.36 C627.47,100.34 628.13,100.33 628.80,100.31 C629.47,100.29 630.13,100.27 630.80,100.25 C631.47,100.23 632.13,100.22 632.80,100.20 C633.47,100.18 634.13,100.16 634.80,100.14 C635.47,100.12 636.13,100.11 636.80,100.09 C637.47,100.07 638.13,100.05 638.80,100.03 C639.47,100.01 640.13,99.99 640.80,99.97 C641.47,99.94 642.13,99.91 642.80,99.89 C643.47,99.86 644.13,99.83 644.80,99.81 C645.47,99.78 646.13,99.75 646.80,99.73 C647.47,99.70 648.13,99.67 648.80,99.65 C649.47,99.62 650.13,99.59 650.80,99.57 C651.47,99.54 652.13,99.51 652.80,99.49 C653.47,99.46 654.13,99.43 654.80,99.41 C655.47,99.38 656.13,99.35 656.80,99.33 C657.47,99.30 658.13,99.27 658.80,99.25 C659.47,99.22 660.13,99.19 660.80,99.17 C661.47,99.14 662.13,99.11 662.80,99.09 C663.47,99.06 664.13,99.03 664.80,99.01 C665.47,98.98 666.13,98.95 666.80,98.93 C667.47,98.90 668.13,98.87 668.80,98.85 C669.47,98.82 670.13,98.79 670.80,98.77 C671.47,98.74 672.13,98.71 672.80,98.69 C673.47,98.66 674.13,98.63 674.80,98.61 C675.47,98.58 676.13,98.55 676.80,98.53 C677.47,98.50 678.13,98.47 678.80,98.45 C679.47,98.42 680.13,98.40 680.80,98.38 C681.47,98.36 682.13,98.34 682.80,98.32 C683.47,98.31 684.13,98.29 684.80,98.27 C685.47,98.25 686.13,98.23 686.80,98.22 C687.47,98.20 688.13,98.18 688.80,98.16 C689.47,98.14 690.13,98.13 690.80,98.11 C691.47,98.09 692.13,98.07 692.80,98.05 C693.47,98.04 694.13,98.02 694.80,98.00 C695.47,97.98 696.13,97.96 696.80,97.95 C697.47,97.93 698.13,97.91 698.80,97.89 C699.47,97.87 700.13,97.86 700.80,97.84 C701.47,97.82 702.13,97.80 702.80,97.78 C703.47,97.77 704.13,97.75 704.80,97.73 C705.47,97.71 706.13,97.69 706.80,97.68 C707.47,97.66 708.13,97.64 708.80,97.62 C709.47,97.60 710.13,97.59 710.80,97.57 C711.47,97.55 712.13,97.53 712.80,97.51 C713.47,97.50 714.13,97.48 714.80,97.46 C715.47,97.44 716.13,97.42 716.80,97.41 C717.47,97.39 718.13,97.37 718.80,97.35 C719.47,97.33 720.13,97.32 720.80,97.30 C721.47,97.28 722.13,97.26 722.80,97.24 C723.47,97.23 724.13,97.21 724.80,97.19 C725.47,97.17 726.13,97.15 726.80,97.14 C727.47,97.12 728.13,97.10 728.80,97.08 C729.47,97.06 730.13,97.05 730.80,97.03 C731.47,97.01 732.13,96.99 732.80,96.97 C733.47,96.96 734.13,96.94 734.80,96.92 C735.47,96.90 736.13,96.88 736.80,96.87 C737.47,96.85 738.13,96.83 738.80,96.81 C739.47,96.79 740.13,96.78 740.80,96.76 C741.47,96.74 742.13,96.72 742.80,96.70 C743.47,96.69 744.13,96.67 744.80,96.65 C745.47,96.63 746.13,96.61 746.80,96.60 C747.47,96.58 748.13,96.56 748.80,96.54 C749.47,96.52 750.13,96.51 750.80,96.49 C751.47,96.47 752.13,96.45 752.80,96.43 C753.47,96.42 754.13,96.40 754.80,96.38 C755.47,96.36 756.13,96.34 756.80,96.33 C757.47,96.31 758.13,96.29 758.80,96.27 C759.47,96.25 760.47,96.23 760.80,96.22" stroke="url(#gU)" stroke-width="8" fill="none"/>
<path d="M396.80,102.88 C397.13,102.91 398.13,103.00 398.80,103.07 C399.47,103.13 400.13,103.20 400.80,103.26 C401.47,103.32 402.13,103.39 402.80,103.45 C403.47,103.52 404.13,103.58 404.80,103.64 C405.47,103.71 406.13,103.77 406.80,103.83 C407.47,103.90 408.13,103.96 408.80,104.03 C409.47,104.09 410.13,104.15 410.80,104.22 C411.47,104.28 412.13,104.35 412.80,104.41 C413.47,104.47 414.13,104.54 414.80,104.60 C415.47,104.67 416.13,104.73 416.80,104.79 C417.47,104.86 418.13,104.92 418.80,104.98 C419.47,105.05 420.13,105.11 420.80,105.18 C421.47,105.25 422.13,105.31 422.80,105.38 C423.47,105.45 424.13,105.51 424.80,105.58 C425.47,105.65 426.13,105.71 426.80,105.78 C427.47,105.85 428.13,105.91 428.80,105.98 C429.47,106.05 430.13,106.11 430.80,106.18 C431.47,106.25 432.13,106.31 432.80,106.38 C433.47,106.45 434.13,106.51 434.80,106.58 C435.47,106.65 436.13,106.71 436.80,106.78 C437.47,106.85 438.13,106.91 438.80,106.98 C439.47,107.05 440.13,107.11 440.80,107.18 C441.47,107.25 442.13,107.31 442.80,107.38 C443.47,107.45 444.13,107.51 444.80,107.58 C445.47,107.65 446.13,107.71 446.80,107.78 C447.47,107.85 448.13,107.91 448.80,107.98 C449.47,108.05 450.13,108.11 450.80,108.18 C451.47,108.25 452.13,108.31 452.80,108.38 C453.47,108.45 454.13,108.51 454.80,108.58 C455.47,108.65 456.13,108.71 456.80,108.78 C457.47,108.85 458.13,108.93 458.80,108.98 C459.47,109.03 460.13,109.08 460.80,109.10 C461.47,109.13 462.13,109.11 462.80,109.11 C463.47,109.12 464.13,109.12 464.80,109.12 C465.47,109.13 466.13,109.13 466.80,109.13 C467.47,109.14 468.13,109.14 468.80,109.14 C469.47,109.15 470.13,109.15 470.80,109.15 C471.47,109.16 472.13,109.16 472.80,109.16 C473.47,109.17 474.13,109.17 474.80,109.17 C475.47,109.18 476.13,109.18 476.80,109.18 C477.47,109.19 478.13,109.19 478.80,109.19 C479.47,109.19 480.13,109.19 480.80,109.18 C481.47,109.17 482.13,109.15 482.80,109.14 C483.47,109.12 484.13,109.11 484.80,109.09 C485.47,109.08 486.13,109.06 486.80,109.05 C487.47,109.03 488.13,109.02 488.80,109.00 C489.47,108.99 490.13,108.97 490.80,108.96 C491.47,108.94 492.13,108.93 492.80,108.91 C493.47,108.90 494.13,108.88 494.80,108.87 C495.47,108.85 496.13,108.84 496.80,108.82 C497.47,108.81 498.13,108.79 498.80,108.78 C499.47,108.76 500.13,108.75 500.80,108.73 C501.47,108.72 502.13,108.70 502.80,108.69 C503.47,108.67 504.13,108.66 504.80,108.64 C505.47,108.63 506.13,108.61 506.80,108.60 C507.47,108.58 508.13,108.57 508.80,108.55 C509.47,108.54 510.13,108.52 510.80,108.51 C511.47,108.49 512.13,108.48 512.80,108.46 C513.47,108.45 514.13,108.43 514.80,108.42 C515.47,108.40 516.13,108.39 516.80,108.37 C517.47,108.36 518.13,108.34 518.80,108.33 C519.47,108.31 520.13,108.30 520.80,108.29 C521.47,108.29 522.13,108.28 522.80,108.28 C523.47,108.27 524.13,108.27 524.80,108.26 C525.47,108.26 526.13,108.25 526.80,108.25 C527.47,108.24 528.13,108.24 528.80,108.23 C529.47,108.23 530.13,108.22 530.80,108.22 C531.47,108.21 532.13,108.21 532.80,108.20 C533.47,108.20 534.13,108.19 534.80,108.19 C535.47,108.18 536.13,108.18 536.80,108.17 C537.47,108.17 538.13,108.16 538.80,108.16 C539.47,108.15 540.13,108.15 540.80,108.14 C541.47,108.14 542.13,108.13 542.80,108.13 C543.47,108.12 544.13,108.12 544.80,108.11 C545.47,108.11 546.13,108.10 546.80,108.10 C547.47,108.09 548.13,108.09 548.80,108.08 C549.47,108.08 550.13,108.07 550.80,108.07 C551.47,108.06 552.13,108.06 552.80,108.05 C553.47,108.05 554.13,108.04 554.80,108.04 C555.47,108.03 556.13,108.03 556.80,108.02 C557.47,108.02 558.13,108.01 558.80,108.01 C559.47,108.00 560.13,108.00 560.80,107.99 C561.47,107.99 562.13,107.98 562.80,107.98 C563.47,107.97 564.13,107.97 564.80,107.96 C565.47,107.96 566.13,107.95 566.80,107.95 C567.47,107.94 568.13,107.94 568.80,107.93 C569.47,107.93 570.13,107.92 570.80,107.92 C571.47,107.91 572.13,107.91 572.80,107.90 C573.47,107.90 574.13,107.89 574.80,107.89 C575.47,107.88 576.13,107.88 576.80,107.87 C577.47,107.87 578.13,107.86 578.80,107.86 C579.47,107.85 580.13,107.85 580.80,107.84 C581.47,107.84 582.13,107.83 582.80,107.83 C583.47,107.82 584.13,107.82 584.80,107.81 C585.47,107.81 586.13,107.80 586.80,107.80 C587.47,107.79 588.13,107.79 588.80,107.78 C589.47,107.78 590.13,107.77 590.80,107.77 C591.47,107.76 592.13,107.76 592.80,107.75 C593.47,107.75 594.13,107.74 594.80,107.74 C595.47,107.73 596.13,107.73 596.80,107.72 C597.47,107.72 598.13,107.72 598.80,107.71 C599.47,107.70 600.13,107.69 600.80,107.68 C601.47,107.66 602.13,107.64 602.80,107.62 C603.47,107.60 604.13,107.59 604.80,107.57 C605.47,107.55 606.13,107.53 606.80,107.51 C607.47,107.49 608.13,107.48 608.80,107.46 C609.47,107.44 610.13,107.42 610.80,107.40 C611.47,107.38 612.13,107.37 612.80,107.35 C613.47,107.33 614.13,107.31 614.80,107.29 C615.47,107.27 616.13,107.26 616.80,107.24 C617.47,107.22 618.13,107.20 618.80,107.18 C619.47,107.16 620.13,107.15 620.80,107.13 C621.47,107.11 622.13,107.09 622.80,107.07 C623.47,107.05 624.13,107.04 624.80,107.02 C625.47,107.00 626.13,106.98 626.80,106.96 C627.47,106.94 628.13,106.93 628.80,106.91 C629.47,106.89 630.13,106.87 630.80,106.85 C631.47,106.83 632.13,106.82 632.80,106.80 C633.47,106.78 634.13,106.76 634.80,106.74 C635.47,106.72 636.13,106.71 636.80,106.69 C637.47,106.67 638.13,106.65 638.80,106.63 C639.47,106.61 640.13,106.59 640.80,106.57 C641.47,106.54 642.13,106.51 642.80,106.49 C643.47,106.46 644.13,106.43 644.80,106.41 C645.47,106.38 646.13,106.35 646.80,106.33 C647.47,106.30 648.13,106.27 648.80,106.25 C649.47,106.22 650.13,106.19 650.80,106.17 C651.47,106.14 652.13,106.11 652.80,106.09 C653.47,106.06 654.13,106.03 654.80,106.01 C655.47,105.98 656.13,105.95 656.80,105.93 C657.47,105.90 658.13,105.87 658.80,105.85 C659.47,105.82 660.13,105.79 660.80,105.77 C661.47,105.74 662.13,105.71 662.80,105.69 C663.47,105.66 664.13,105.63 664.80,105.61 C665.47,105.58 666.13,105.55 666.80,105.53 C667.47,105.50 668.13,105.47 668.80,105.45 C669.47,105.42 670.13,105.39 670.80,105.37 C671.47,105.34 672.13,105.31 672.80,105.29 C673.47,105.26 674.13,105.23 674.80,105.21 C675.47,105.18 676.13,105.15 676.80,105.13 C677.47,105.10 678.13,105.07 678.80,105.05 C679.47,105.02 680.13,105.00 680.80,104.98 C681.47,104.96 682.13,104.94 682.80,104.92 C683.47,104.91 684.13,104.89 684.80,104.87 C685.47,104.85 686.13,104.83 686.80,104.82 C687.47,104.80 688.13,104.78 688.80,104.76 C689.47,104.74 690.13,104.73 690.80,104.71 C691.47,104.69 692.13,104.67 692.80,104.65 C693.47,104.64 694.13,104.62 694.80,104.60 C695.47,104.58 696.13,104.56 696.80,104.55 C697.47,104.53 698.13,104.51 698.80,104.49 C699.47,104.47 700.13,104.46 700.80,104.44 C701.47,104.42 702.13,104.40 702.80,104.38 C703.47,104.37 704.13,104.35 704.80,104.33 C705.47,104.31 706.13,104.29 706.80,104.28 C707.47,104.26 708.13,104.24 708.80,104.22 C709.47,104.20 710.13,104.19 710.80,104.17 C711.47,104.15 712.13,104.13 712.80,104.11 C713.47,104.10 714.13,104.08 714.80,104.06 C715.47,104.04 716.13,104.02 716.80,104.01 C717.47,103.99 718.13,103.97 718.80,103.95 C719.47,103.93 720.13,103.92 720.80,103.90 C721.47,103.88 722.13,103.86 722.80,103.84 C723.47,103.83 724.13,103.81 724.80,103.79 C725.47,103.77 726.13,103.75 726.80,103.74 C727.47,103.72 728.13,103.70 728.80,103.68 C729.47,103.66 730.13,103.65 730.80,103.63 C731.47,103.61 732.13,103.59 732.80,103.57 C733.47,103.56 734.13,103.54 734.80,103.52 C735.47,103.50 736.13,103.48 736.80,103.47 C737.47,103.45 738.13,103.43 738.80,103.41 C739.47,103.39 740.13,103.38 740.80,103.36 C741.47,103.34 742.13,103.32 742.80,103.30 C743.47,103.29 744.13,103.27 744.80,103.25 C745.47,103.23 746.13,103.21 746.80,103.20 C747.47,103.18 748.13,103.16 748.80,103.14 C749.47,103.12 750.13,103.11 750.80,103.09 C751.47,103.07 752.13,103.05 752.80,103.03 C753.47,103.02 754.13,103.00 754.80,102.98 C755.47,102.96 756.13,102.94 756.80,102.93 C757.47,102.91 758.13,102.89 758.80,102.87 C759.47,102.85 760.47,102.83 760.80,102.82" stroke="url(#gL)" stroke-width="3.6" fill="none"/>
<path d="M396.80,100.28 C397.13,100.31 398.13,100.40 398.80,100.47 C399.47,100.53 400.13,100.60 400.80,100.66 C401.47,100.72 402.13,100.79 402.80,100.85 C403.47,100.92 404.13,100.98 404.80,101.04 C405.47,101.11 406.13,101.17 406.80,101.23 C407.47,101.30 408.13,101.36 408.80,101.43 C409.47,101.49 410.13,101.55 410.80,101.62 C411.47,101.68 412.13,101.75 412.80,101.81 C413.47,101.87 414.13,101.94 414.80,102.00 C415.47,102.07 416.13,102.13 416.80,102.19 C417.47,102.26 418.13,102.32 418.80,102.39 C419.47,102.45 420.13,102.51 420.80,102.58 C421.47,102.65 422.13,102.71 422.80,102.78 C423.47,102.85 424.13,102.91 424.80,102.98 C425.47,103.05 426.13,103.11 426.80,103.18 C427.47,103.25 428.13,103.31 428.80,103.38 C429.47,103.45 430.13,103.51 430.80,103.58 C431.47,103.65 432.13,103.71 432.80,103.78 C433.47,103.85 434.13,103.91 434.80,103.98 C435.47,104.05 436.13,104.11 436.80,104.18 C437.47,104.25 438.13,104.31 438.80,104.38 C439.47,104.45 440.13,104.51 440.80,104.58 C441.47,104.65 442.13,104.71 442.80,104.78 C443.47,104.85 444.13,104.91 444.80,104.98 C445.47,105.05 446.13,105.11 446.80,105.18 C447.47,105.25 448.13,105.31 448.80,105.38 C449.47,105.45 450.13,105.51 450.80,105.58 C451.47,105.65 452.13,105.71 452.80,105.78 C453.47,105.85 454.13,105.91 454.80,105.98 C455.47,106.05 456.13,106.11 456.80,106.18 C457.47,106.25 458.13,106.33 458.80,106.38 C459.47,106.43 460.13,106.48 460.80,106.50 C461.47,106.53 462.13,106.51 462.80,106.51 C463.47,106.52 464.13,106.52 464.80,106.52 C465.47,106.53 466.13,106.53 466.80,106.53 C467.47,106.54 468.13,106.54 468.80,106.54 C469.47,106.55 470.13,106.55 470.80,106.55 C471.47,106.56 472.13,106.56 472.80,106.56 C473.47,106.57 474.13,106.57 474.80,106.57 C475.47,106.58 476.13,106.58 476.80,106.58 C477.47,106.59 478.13,106.59 478.80,106.59 C479.47,106.59 480.13,106.59 480.80,106.58 C481.47,106.57 482.13,106.55 482.80,106.54 C483.47,106.52 484.13,106.51 484.80,106.49 C485.47,106.48 486.13,106.46 486.80,106.45 C487.47,106.43 488.13,106.42 488.80,106.40 C489.47,106.39 490.13,106.37 490.80,106.36 C491.47,106.34 492.13,106.33 492.80,106.31 C493.47,106.30 494.13,106.28 494.80,106.27 C495.47,106.25 496.13,106.24 496.80,106.22 C497.47,106.21 498.13,106.19 498.80,106.18 C499.47,106.16 500.13,106.15 500.80,106.13 C501.47,106.12 502.13,106.10 502.80,106.09 C503.47,106.07 504.13,106.06 504.80,106.04 C505.47,106.03 506.13,106.01 506.80,106.00 C507.47,105.98 508.13,105.97 508.80,105.95 C509.47,105.94 510.13,105.92 510.80,105.91 C511.47,105.89 512.13,105.88 512.80,105.86 C513.47,105.85 514.13,105.83 514.80,105.82 C515.47,105.80 516.13,105.79 516.80,105.77 C517.47,105.76 518.13,105.74 518.80,105.73 C519.47,105.71 520.13,105.70 520.80,105.69 C521.47,105.69 522.13,105.68 522.80,105.68 C523.47,105.67 524.13,105.67 524.80,105.66 C525.47,105.66 526.13,105.65 526.80,105.65 C527.47,105.64 528.13,105.64 528.80,105.63 C529.47,105.63 530.13,105.62 530.80,105.62 C531.47,105.61 532.13,105.61 532.80,105.60 C533.47,105.60 534.13,105.59 534.80,105.59 C535.47,105.58 536.13,105.58 536.80,105.57 C537.47,105.57 538.13,105.56 538.80,105.56 C539.47,105.55 540.13,105.55 540.80,105.54 C541.47,105.54 542.13,105.53 542.80,105.53 C543.47,105.52 544.13,105.52 544.80,105.51 C545.47,105.51 546.13,105.50 546.80,105.50 C547.47,105.49 548.13,105.49 548.80,105.48 C549.47,105.48 550.13,105.47 550.80,105.47 C551.47,105.46 552.13,105.46 552.80,105.45 C553.47,105.45 554.13,105.44 554.80,105.44 C555.47,105.43 556.13,105.43 556.80,105.42 C557.47,105.42 558.13,105.41 558.80,105.41 C559.47,105.40 560.13,105.40 560.80,105.39 C561.47,105.39 562.13,105.38 562.80,105.38 C563.47,105.37 564.13,105.37 564.80,105.36 C565.47,105.36 566.13,105.35 566.80,105.35 C567.47,105.34 568.13,105.34 568.80,105.33 C569.47,105.33 570.13,105.32 570.80,105.32 C571.47,105.31 572.13,105.31 572.80,105.30 C573.47,105.30 574.13,105.29 574.80,105.29 C575.47,105.28 576.13,105.28 576.80,105.27 C577.47,105.27 578.13,105.26 578.80,105.26 C579.47,105.25 580.13,105.25 580.80,105.24 C581.47,105.24 582.13,105.23 582.80,105.23 C583.47,105.22 584.13,105.22 584.80,105.21 C585.47,105.21 586.13,105.20 586.80,105.20 C587.47,105.19 588.13,105.19 588.80,105.18 C589.47,105.18 590.13,105.17 590.80,105.17 C591.47,105.16 592.13,105.16 592.80,105.15 C593.47,105.15 594.13,105.14 594.80,105.14 C595.47,105.13 596.13,105.13 596.80,105.12 C597.47,105.12 598.13,105.12 598.80,105.11 C599.47,105.10 600.13,105.09 600.80,105.08 C601.47,105.06 602.13,105.04 602.80,105.02 C603.47,105.00 604.13,104.99 604.80,104.97 C605.47,104.95 606.13,104.93 606.80,104.91 C607.47,104.89 608.13,104.88 608.80,104.86 C609.47,104.84 610.13,104.82 610.80,104.80 C611.47,104.78 612.13,104.77 612.80,104.75 C613.47,104.73 614.13,104.71 614.80,104.69 C615.47,104.67 616.13,104.66 616.80,104.64 C617.47,104.62 618.13,104.60 618.80,104.58 C619.47,104.56 620.13,104.55 620.80,104.53 C621.47,104.51 622.13,104.49 622.80,104.47 C623.47,104.45 624.13,104.44 624.80,104.42 C625.47,104.40 626.13,104.38 626.80,104.36 C627.47,104.34 628.13,104.33 628.80,104.31 C629.47,104.29 630.13,104.27 630.80,104.25 C631.47,104.23 632.13,104.22 632.80,104.20 C633.47,104.18 634.13,104.16 634.80,104.14 C635.47,104.12 636.13,104.11 636.80,104.09 C637.47,104.07 638.13,104.05 638.80,104.03 C639.47,104.01 640.13,103.99 640.80,103.97 C641.47,103.94 642.13,103.91 642.80,103.89 C643.47,103.86 644.13,103.83 644.80,103.81 C645.47,103.78 646.13,103.75 646.80,103.73 C647.47,103.70 648.13,103.67 648.80,103.65 C649.47,103.62 650.13,103.59 650.80,103.57 C651.47,103.54 652.13,103.51 652.80,103.49 C653.47,103.46 654.13,103.43 654.80,103.41 C655.47,103.38 656.13,103.35 656.80,103.33 C657.47,103.30 658.13,103.27 658.80,103.25 C659.47,103.22 660.13,103.19 660.80,103.17 C661.47,103.14 662.13,103.11 662.80,103.09 C663.47,103.06 664.13,103.03 664.80,103.01 C665.47,102.98 666.13,102.95 666.80,102.93 C667.47,102.90 668.13,102.87 668.80,102.85 C669.47,102.82 670.13,102.79 670.80,102.77 C671.47,102.74 672.13,102.71 672.80,102.69 C673.47,102.66 674.13,102.63 674.80,102.61 C675.47,102.58 676.13,102.55 676.80,102.53 C677.47,102.50 678.13,102.47 678.80,102.45 C679.47,102.42 680.13,102.40 680.80,102.38 C681.47,102.36 682.13,102.34 682.80,102.32 C683.47,102.31 684.13,102.29 684.80,102.27 C685.47,102.25 686.13,102.23 686.80,102.22 C687.47,102.20 688.13,102.18 688.80,102.16 C689.47,102.14 690.13,102.13 690.80,102.11 C691.47,102.09 692.13,102.07 692.80,102.05 C693.47,102.04 694.13,102.02 694.80,102.00 C695.47,101.98 696.13,101.96 696.80,101.95 C697.47,101.93 698.13,101.91 698.80,101.89 C699.47,101.87 700.13,101.86 700.80,101.84 C701.47,101.82 702.13,101.80 702.80,101.78 C703.47,101.77 704.13,101.75 704.80,101.73 C705.47,101.71 706.13,101.69 706.80,101.68 C707.47,101.66 708.13,101.64 708.80,101.62 C709.47,101.60 710.13,101.59 710.80,101.57 C711.47,101.55 712.13,101.53 712.80,101.51 C713.47,101.50 714.13,101.48 714.80,101.46 C715.47,101.44 716.13,101.42 716.80,101.41 C717.47,101.39 718.13,101.37 718.80,101.35 C719.47,101.33 720.13,101.32 720.80,101.30 C721.47,101.28 722.13,101.26 722.80,101.24 C723.47,101.23 724.13,101.21 724.80,101.19 C725.47,101.17 726.13,101.15 726.80,101.14 C727.47,101.12 728.13,101.10 728.80,101.08 C729.47,101.06 730.13,101.05 730.80,101.03 C731.47,101.01 732.13,100.99 732.80,100.97 C733.47,100.96 734.13,100.94 734.80,100.92 C735.47,100.90 736.13,100.88 736.80,100.87 C737.47,100.85 738.13,100.83 738.80,100.81 C739.47,100.79 740.13,100.78 740.80,100.76 C741.47,100.74 742.13,100.72 742.80,100.70 C743.47,100.69 744.13,100.67 744.80,100.65 C745.47,100.63 746.13,100.61 746.80,100.60 C747.47,100.58 748.13,100.56 748.80,100.54 C749.47,100.52 750.13,100.51 750.80,100.49 C751.47,100.47 752.13,100.45 752.80,100.43 C753.47,100.42 754.13,100.40 754.80,100.38 C755.47,100.36 756.13,100.34 756.80,100.33 C757.47,100.31 758.13,100.29 758.80,100.27 C759.47,100.25 760.47,100.23 760.80,100.22" stroke="#a01850" stroke-width="2" fill="none" opacity="0.85"/>
<line x1="381.5" y1="99.9" x2="397" y2="99.9" stroke="#801840" stroke-width="1.7"/>
<path d="M761,100.6 L766,99.5 L772,98.3" stroke="#802050" stroke-width="1.5" fill="none"/>
<line x1="606.5" y1="161.2" x2="667.8" y2="161.2" stroke="#222" stroke-width="1.3"/>
<text x="628.9" y="179.4" font-family="Liberation Sans, Arial, sans-serif" font-size="13" letter-spacing="0.7" fill="#111">5 s</text>
<line x1="695" y1="141" x2="695" y2="171.8" stroke="#222" stroke-width="1.3"/>
<text x="700.4" y="158.2" font-family="Liberation Sans, Arial, sans-serif" font-size="13" letter-spacing="0.15" fill="#111">2 mV</text>
<text x="698.8" y="190.1" font-family="Liberation Sans, Arial, sans-serif" font-size="13" letter-spacing="0.15" fill="#111">Last LFP</text>
<text x="411.5" y="194.4" font-family="Liberation Sans, Arial, sans-serif" font-size="13" letter-spacing="0.16" fill="#111">First LFP</text>
<line x1="466.4" y1="162.4" x2="477.8" y2="162.4" stroke="#222" stroke-width="1.2"/>
<line x1="471.3" y1="163" x2="521" y2="202.9" stroke="#222" stroke-width="1.2"/>
<polygon points="527.2,207.9 517.6,203.7 521.2,199.5" fill="#222"/>
<path d="M396.50,236.00 C396.75,235.17 397.42,234.00 398.00,231.00 C398.58,228.00 399.35,221.08 400.00,218.00 C400.65,214.92 401.43,212.17 401.90,212.50 C402.37,212.83 402.53,213.75 402.80,220.00 C403.07,226.25 403.22,238.03 403.50,250.00 C403.78,261.97 404.15,287.13 404.50,291.80 C404.85,296.47 405.27,284.97 405.60,278.00 C405.93,271.03 406.18,258.83 406.50,250.00 C406.82,241.17 407.08,231.67 407.50,225.00 C407.92,218.33 408.42,213.05 409.00,210.00 C409.58,206.95 410.17,207.28 411.00,206.70 C411.83,206.12 412.50,206.37 414.00,206.50 C415.50,206.63 417.67,206.83 420.00,207.50 C422.33,208.17 424.90,208.92 428.00,210.50 C431.10,212.08 434.93,214.92 438.60,217.00 C442.27,219.08 445.63,221.00 450.00,223.00 C454.37,225.00 460.13,227.47 464.80,229.00 C469.47,230.53 473.63,231.43 478.00,232.20 C482.37,232.97 488.83,233.37 491.00,233.60" fill="none" stroke="#2a2ab8" stroke-width="1.6" stroke-linejoin="round" stroke-linecap="round"/>
<path d="M393.50,235.50 C393.75,235.33 394.50,234.42 395.00,234.50 C395.50,234.58 396.00,236.42 396.50,236.00 C397.00,235.58 397.42,234.67 398.00,232.00 C398.58,229.33 399.35,223.00 400.00,220.00 C400.65,217.00 401.37,213.67 401.90,214.00 C402.43,214.33 402.80,217.67 403.20,222.00 C403.60,226.33 404.00,235.57 404.30,240.00 C404.60,244.43 404.72,247.93 405.00,248.60 C405.28,249.27 405.62,246.77 406.00,244.00 C406.38,241.23 406.88,235.33 407.30,232.00 C407.72,228.67 408.08,225.68 408.50,224.00 C408.92,222.32 409.22,222.15 409.80,221.90 C410.38,221.65 410.63,222.23 412.00,222.50 C413.37,222.77 415.67,223.17 418.00,223.50 C420.33,223.83 422.57,224.03 426.00,224.50 C429.43,224.97 434.60,225.47 438.60,226.30 C442.60,227.13 445.63,228.50 450.00,229.50 C454.37,230.50 460.13,231.55 464.80,232.30 C469.47,233.05 473.63,233.60 478.00,234.00 C482.37,234.40 488.83,234.58 491.00,234.70" fill="none" stroke="#d8283c" stroke-width="1.5" stroke-linejoin="round" stroke-linecap="round"/>
<path d="M478.9,248.3 V277.5 H444" fill="none" stroke="#222" stroke-width="1.3"/>
<text x="483.6" y="266.4" font-family="Liberation Sans, Arial, sans-serif" font-size="12.8" letter-spacing="0.2" fill="#111">2 mV</text>
<text x="443.8" y="294.7" font-family="Liberation Sans, Arial, sans-serif" font-size="12.5" letter-spacing="0.15" fill="#111">10 ms</text>
<path d="M531.20,274.00 C531.47,271.67 532.30,267.00 532.80,260.00 C533.30,253.00 533.75,239.33 534.20,232.00 C534.65,224.67 535.00,219.33 535.50,216.00 C536.00,212.67 536.62,212.17 537.20,212.00 C537.78,211.83 538.37,212.67 539.00,215.00 C539.63,217.33 540.33,221.83 541.00,226.00 C541.67,230.17 542.37,236.67 543.00,240.00 C543.63,243.33 544.13,246.50 544.80,246.00 C545.47,245.50 546.22,241.00 547.00,237.00 C547.78,233.00 548.45,225.47 549.50,222.00 C550.55,218.53 552.05,216.95 553.30,216.20 C554.55,215.45 555.72,216.70 557.00,217.50 C558.28,218.30 559.67,219.50 561.00,221.00 C562.33,222.50 563.73,224.88 565.00,226.50 C566.27,228.12 567.43,230.45 568.60,230.70 C569.77,230.95 570.60,228.87 572.00,228.00 C573.40,227.13 574.87,226.18 577.00,225.50 C579.13,224.82 581.80,223.90 584.80,223.90 C587.80,223.90 590.80,224.57 595.00,225.50 C599.20,226.43 604.33,228.08 610.00,229.50 C615.67,230.92 625.83,233.25 629.00,234.00" fill="none" stroke="#2a2ab8" stroke-width="1.6" stroke-linejoin="round" stroke-linecap="round"/>
<path d="M521.60,234.90 C521.93,235.47 522.95,238.78 523.60,238.30 C524.25,237.82 524.93,233.83 525.50,232.00 C526.07,230.17 526.50,225.97 527.00,227.30 C527.50,228.63 528.03,234.22 528.50,240.00 C528.97,245.78 529.35,256.47 529.80,262.00 C530.25,267.53 530.73,273.20 531.20,273.20 C531.67,273.20 532.13,268.37 532.60,262.00 C533.07,255.63 533.38,242.33 534.00,235.00 C534.62,227.67 535.55,220.17 536.30,218.00 C537.05,215.83 537.80,218.67 538.50,222.00 C539.20,225.33 539.73,232.45 540.50,238.00 C541.27,243.55 542.27,254.13 543.10,255.30 C543.93,256.47 544.68,249.55 545.50,245.00 C546.32,240.45 547.12,231.95 548.00,228.00 C548.88,224.05 549.80,222.13 550.80,221.30 C551.80,220.47 552.80,221.72 554.00,223.00 C555.20,224.28 556.42,226.73 558.00,229.00 C559.58,231.27 562.00,235.60 563.50,236.60 C565.00,237.60 565.75,235.93 567.00,235.00 C568.25,234.07 569.45,232.28 571.00,231.00 C572.55,229.72 573.97,227.72 576.30,227.30 C578.63,226.88 581.05,227.88 585.00,228.50 C588.95,229.12 595.00,230.17 600.00,231.00 C605.00,231.83 610.17,232.70 615.00,233.50 C619.83,234.30 626.67,235.42 629.00,235.80" fill="none" stroke="#d8283c" stroke-width="1.5" stroke-linejoin="round" stroke-linecap="round"/>
<path d="M676.30,240.00 C676.50,239.30 676.88,236.22 677.50,235.80 C678.12,235.38 679.03,237.77 680.00,237.50 C680.97,237.23 681.92,235.08 683.30,234.20 C684.68,233.32 686.63,232.43 688.30,232.20 C689.97,231.97 691.35,232.47 693.30,232.80 C695.25,233.13 696.10,233.70 700.00,234.20 C703.90,234.70 711.15,235.33 716.70,235.80 C722.25,236.27 724.00,236.63 733.30,237.00 C742.60,237.37 765.97,237.83 772.50,238.00" fill="none" stroke="#d8283c" stroke-width="1.5" stroke-linejoin="round" stroke-linecap="round"/>
<path d="M680.80,235.00 C681.37,234.03 683.00,230.82 684.20,229.20 C685.40,227.58 686.90,225.30 688.00,225.30 C689.10,225.30 689.92,226.20 690.80,229.20 C691.68,232.20 692.60,239.70 693.30,243.30 C694.00,246.90 694.30,251.07 695.00,250.80 C695.70,250.53 696.53,244.88 697.50,241.70 C698.47,238.52 699.83,232.53 700.80,231.70 C701.77,230.87 702.47,234.82 703.30,236.70 C704.13,238.58 704.97,241.75 705.80,243.00 C706.63,244.25 707.38,243.08 708.30,244.20 C709.22,245.32 710.32,249.70 711.30,249.70 C712.28,249.70 713.30,246.23 714.20,244.20 C715.10,242.17 715.90,238.40 716.70,237.50 C717.50,236.60 718.17,238.45 719.00,238.80 C719.83,239.15 720.83,239.40 721.70,239.60 C722.57,239.80 723.37,240.27 724.20,240.00 C725.03,239.73 724.62,238.22 726.70,238.00 C728.78,237.78 729.07,238.58 736.70,238.70 C744.33,238.82 766.53,238.70 772.50,238.70" fill="none" stroke="#2a2ab8" stroke-width="1.6" stroke-linejoin="round" stroke-linecap="round"/>
<line x1="665" y1="237" x2="672.5" y2="237" stroke="#d8283c" stroke-width="1.5"/>
<line x1="383" y1="236.3" x2="391.4" y2="236.3" stroke="#d8283c" stroke-width="1.5"/>
<text x="363.6" y="307.7" font-family="Liberation Sans, Arial, sans-serif" font-size="15" font-weight="bold" fill="#111">C</text>
<path d="M409.6,313.5 V441.2 H765" fill="none" stroke="#222" stroke-width="1.4"/>
<line x1="402.6" y1="437.60" x2="409.6" y2="437.60" stroke="#222" stroke-width="1.2"/>
<text x="399" y="441.10" font-family="Liberation Sans, Arial, sans-serif" font-size="10" fill="#222" text-anchor="end">0.0</text>
<line x1="406.1" y1="427.30" x2="409.6" y2="427.30" stroke="#222" stroke-width="1.2"/>
<line x1="402.6" y1="417.00" x2="409.6" y2="417.00" stroke="#222" stroke-width="1.2"/>
<text x="399" y="420.50" font-family="Liberation Sans, Arial, sans-serif" font-size="10" fill="#222" text-anchor="end">0.4</text>
<line x1="406.1" y1="406.70" x2="409.6" y2="406.70" stroke="#222" stroke-width="1.2"/>
<line x1="402.6" y1="396.40" x2="409.6" y2="396.40" stroke="#222" stroke-width="1.2"/>
<text x="399" y="399.90" font-family="Liberation Sans, Arial, sans-serif" font-size="10" fill="#222" text-anchor="end">0.8</text>
<line x1="406.1" y1="386.10" x2="409.6" y2="386.10" stroke="#222" stroke-width="1.2"/>
<line x1="402.6" y1="375.80" x2="409.6" y2="375.80" stroke="#222" stroke-width="1.2"/>
<text x="399" y="379.30" font-family="Liberation Sans, Arial, sans-serif" font-size="10" fill="#222" text-anchor="end">1.2</text>
<line x1="406.1" y1="365.50" x2="409.6" y2="365.50" stroke="#222" stroke-width="1.2"/>
<line x1="402.6" y1="355.20" x2="409.6" y2="355.20" stroke="#222" stroke-width="1.2"/>
<text x="399" y="358.70" font-family="Liberation Sans, Arial, sans-serif" font-size="10" fill="#222" text-anchor="end">1.6</text>
<line x1="406.1" y1="344.90" x2="409.6" y2="344.90" stroke="#222" stroke-width="1.2"/>
<line x1="402.6" y1="334.60" x2="409.6" y2="334.60" stroke="#222" stroke-width="1.2"/>
<text x="399" y="338.10" font-family="Liberation Sans, Arial, sans-serif" font-size="10" fill="#222" text-anchor="end">2.0</text>
<line x1="406.1" y1="324.30" x2="409.6" y2="324.30" stroke="#222" stroke-width="1.2"/>
<line x1="402.6" y1="314.00" x2="409.6" y2="314.00" stroke="#222" stroke-width="1.2"/>
<text x="399" y="317.50" font-family="Liberation Sans, Arial, sans-serif" font-size="10" fill="#222" text-anchor="end">2.4</text>
<line x1="413.30" y1="441.2" x2="413.30" y2="447" stroke="#222" stroke-width="1.2"/>
<text x="413.30" y="462.5" font-family="Liberation Sans, Arial, sans-serif" font-size="10" fill="#222" text-anchor="middle">0</text>
<line x1="471.75" y1="441.2" x2="471.75" y2="447" stroke="#222" stroke-width="1.2"/>
<text x="471.75" y="462.5" font-family="Liberation Sans, Arial, sans-serif" font-size="10" fill="#222" text-anchor="middle">50</text>
<line x1="530.20" y1="441.2" x2="530.20" y2="447" stroke="#222" stroke-width="1.2"/>
<text x="530.20" y="462.5" font-family="Liberation Sans, Arial, sans-serif" font-size="10" fill="#222" text-anchor="middle">100</text>
<line x1="588.65" y1="441.2" x2="588.65" y2="447" stroke="#222" stroke-width="1.2"/>
<text x="588.65" y="462.5" font-family="Liberation Sans, Arial, sans-serif" font-size="10" fill="#222" text-anchor="middle">150</text>
<line x1="647.10" y1="441.2" x2="647.10" y2="447" stroke="#222" stroke-width="1.2"/>
<text x="647.10" y="462.5" font-family="Liberation Sans, Arial, sans-serif" font-size="10" fill="#222" text-anchor="middle">200</text>
<line x1="705.55" y1="441.2" x2="705.55" y2="447" stroke="#222" stroke-width="1.2"/>
<text x="705.55" y="462.5" font-family="Liberation Sans, Arial, sans-serif" font-size="10" fill="#222" text-anchor="middle">250</text>
<line x1="764.00" y1="441.2" x2="764.00" y2="447" stroke="#222" stroke-width="1.2"/>
<text x="764.00" y="462.5" font-family="Liberation Sans, Arial, sans-serif" font-size="10" fill="#222" text-anchor="middle">300</text>
<text x="532" y="478.2" font-family="Liberation Sans, Arial, sans-serif" font-size="13.1" fill="#111">Train pulse number</text>
<text transform="translate(370.5,376) rotate(-90)" font-family="Liberation Sans, Arial, sans-serif" font-size="13.2" fill="#111" text-anchor="middle">LFP integral (norm)</text>
<g fill="none" stroke="#3030cc" stroke-width="1.0"><circle cx="414.5" cy="366.6" r="2.3"/><circle cx="414.5" cy="365.9" r="2.3"/><circle cx="415.6" cy="361.6" r="2.3"/><circle cx="416.8" cy="354.8" r="2.3"/><circle cx="418.0" cy="352.8" r="2.3"/><circle cx="419.1" cy="347.9" r="2.3"/><circle cx="420.3" cy="348.7" r="2.3"/><circle cx="421.5" cy="348.9" r="2.3"/><circle cx="422.7" cy="348.8" r="2.3"/><circle cx="423.8" cy="353.5" r="2.3"/><circle cx="425.0" cy="351.6" r="2.3"/><circle cx="426.2" cy="354.2" r="2.3"/><circle cx="427.3" cy="356.4" r="2.3"/><circle cx="428.5" cy="355.8" r="2.3"/><circle cx="429.7" cy="360.1" r="2.3"/><circle cx="430.8" cy="360.4" r="2.3"/><circle cx="432.0" cy="363.3" r="2.3"/><circle cx="433.2" cy="363.0" r="2.3"/><circle cx="434.3" cy="363.8" r="2.3"/><circle cx="435.5" cy="366.9" r="2.3"/><circle cx="436.7" cy="367.1" r="2.3"/><circle cx="437.8" cy="367.6" r="2.3"/><circle cx="439.0" cy="368.4" r="2.3"/><circle cx="440.2" cy="367.6" r="2.3"/><circle cx="441.4" cy="365.2" r="2.3"/><circle cx="442.5" cy="363.4" r="2.3"/><circle cx="443.7" cy="363.3" r="2.3"/><circle cx="444.9" cy="362.5" r="2.3"/><circle cx="446.0" cy="361.4" r="2.3"/><circle cx="447.2" cy="362.4" r="2.3"/><circle cx="448.4" cy="361.9" r="2.3"/><circle cx="449.5" cy="361.8" r="2.3"/><circle cx="450.7" cy="361.5" r="2.3"/><circle cx="451.9" cy="360.3" r="2.3"/><circle cx="453.0" cy="359.8" r="2.3"/><circle cx="454.2" cy="359.6" r="2.3"/><circle cx="455.4" cy="358.3" r="2.3"/><circle cx="456.6" cy="358.2" r="2.3"/><circle cx="457.7" cy="358.7" r="2.3"/><circle cx="458.9" cy="357.7" r="2.3"/><circle cx="460.1" cy="357.2" r="2.3"/><circle cx="461.2" cy="356.5" r="2.3"/><circle cx="462.4" cy="356.7" r="2.3"/><circle cx="463.6" cy="354.6" r="2.3"/><circle cx="464.7" cy="354.6" r="2.3"/><circle cx="465.9" cy="355.5" r="2.3"/><circle cx="467.1" cy="357.6" r="2.3"/><circle cx="468.2" cy="362.3" r="2.3"/><circle cx="469.4" cy="359.3" r="2.3"/><circle cx="470.6" cy="365.3" r="2.3"/><circle cx="471.8" cy="366.9" r="2.3"/><circle cx="472.9" cy="369.2" r="2.3"/><circle cx="474.1" cy="369.0" r="2.3"/><circle cx="475.3" cy="374.0" r="2.3"/><circle cx="476.4" cy="374.6" r="2.3"/><circle cx="477.6" cy="375.3" r="2.3"/><circle cx="478.8" cy="377.3" r="2.3"/><circle cx="479.9" cy="378.2" r="2.3"/><circle cx="481.1" cy="380.7" r="2.3"/><circle cx="482.3" cy="382.2" r="2.3"/><circle cx="483.4" cy="384.7" r="2.3"/><circle cx="484.6" cy="385.5" r="2.3"/><circle cx="485.8" cy="386.5" r="2.3"/><circle cx="486.9" cy="388.6" r="2.3"/><circle cx="488.1" cy="389.9" r="2.3"/><circle cx="489.3" cy="391.1" r="2.3"/><circle cx="490.5" cy="391.1" r="2.3"/><circle cx="491.6" cy="395.4" r="2.3"/><circle cx="492.8" cy="394.9" r="2.3"/><circle cx="494.0" cy="396.8" r="2.3"/><circle cx="495.1" cy="399.5" r="2.3"/><circle cx="496.3" cy="402.0" r="2.3"/><circle cx="497.5" cy="404.8" r="2.3"/><circle cx="498.6" cy="403.6" r="2.3"/><circle cx="499.8" cy="408.6" r="2.3"/><circle cx="501.0" cy="410.6" r="2.3"/><circle cx="502.1" cy="409.9" r="2.3"/><circle cx="503.3" cy="411.0" r="2.3"/><circle cx="504.5" cy="411.5" r="2.3"/><circle cx="505.7" cy="412.3" r="2.3"/><circle cx="506.8" cy="412.4" r="2.3"/><circle cx="508.0" cy="412.9" r="2.3"/><circle cx="509.2" cy="415.2" r="2.3"/><circle cx="510.3" cy="416.5" r="2.3"/><circle cx="511.5" cy="418.9" r="2.3"/><circle cx="512.7" cy="416.3" r="2.3"/><circle cx="513.8" cy="415.5" r="2.3"/><circle cx="515.0" cy="418.0" r="2.3"/><circle cx="516.2" cy="417.7" r="2.3"/><circle cx="517.3" cy="418.8" r="2.3"/><circle cx="518.5" cy="418.4" r="2.3"/><circle cx="519.7" cy="417.8" r="2.3"/><circle cx="520.8" cy="418.7" r="2.3"/><circle cx="522.0" cy="420.5" r="2.3"/><circle cx="523.2" cy="420.1" r="2.3"/><circle cx="524.4" cy="418.9" r="2.3"/><circle cx="525.5" cy="420.9" r="2.3"/><circle cx="526.7" cy="418.6" r="2.3"/><circle cx="527.9" cy="419.6" r="2.3"/><circle cx="529.0" cy="420.4" r="2.3"/><circle cx="530.2" cy="418.9" r="2.3"/><circle cx="531.4" cy="419.2" r="2.3"/><circle cx="532.5" cy="420.4" r="2.3"/><circle cx="533.7" cy="420.4" r="2.3"/><circle cx="534.9" cy="420.3" r="2.3"/><circle cx="536.0" cy="420.1" r="2.3"/><circle cx="537.2" cy="419.6" r="2.3"/><circle cx="538.4" cy="420.0" r="2.3"/><circle cx="539.6" cy="423.9" r="2.3"/><circle cx="540.7" cy="420.3" r="2.3"/><circle cx="541.9" cy="422.5" r="2.3"/><circle cx="543.1" cy="420.5" r="2.3"/><circle cx="544.2" cy="422.5" r="2.3"/><circle cx="545.4" cy="422.4" r="2.3"/><circle cx="546.6" cy="421.7" r="2.3"/><circle cx="547.7" cy="420.7" r="2.3"/><circle cx="548.9" cy="420.0" r="2.3"/><circle cx="550.1" cy="422.4" r="2.3"/><circle cx="551.2" cy="420.2" r="2.3"/><circle cx="552.4" cy="420.2" r="2.3"/><circle cx="553.6" cy="423.1" r="2.3"/><circle cx="554.7" cy="423.0" r="2.3"/><circle cx="555.9" cy="421.7" r="2.3"/><circle cx="557.1" cy="421.4" r="2.3"/><circle cx="558.3" cy="421.0" r="2.3"/><circle cx="559.4" cy="422.1" r="2.3"/><circle cx="560.6" cy="421.3" r="2.3"/><circle cx="561.8" cy="420.3" r="2.3"/><circle cx="562.9" cy="421.1" r="2.3"/><circle cx="564.1" cy="422.2" r="2.3"/><circle cx="565.3" cy="420.4" r="2.3"/><circle cx="566.4" cy="421.0" r="2.3"/><circle cx="567.6" cy="422.2" r="2.3"/><circle cx="568.8" cy="423.8" r="2.3"/><circle cx="569.9" cy="422.3" r="2.3"/><circle cx="571.1" cy="422.3" r="2.3"/><circle cx="572.3" cy="424.2" r="2.3"/><circle cx="573.5" cy="421.3" r="2.3"/><circle cx="574.6" cy="421.7" r="2.3"/><circle cx="575.8" cy="423.3" r="2.3"/><circle cx="577.0" cy="423.6" r="2.3"/><circle cx="578.1" cy="423.1" r="2.3"/><circle cx="579.3" cy="420.0" r="2.3"/><circle cx="580.5" cy="423.5" r="2.3"/><circle cx="581.6" cy="423.5" r="2.3"/><circle cx="582.8" cy="422.9" r="2.3"/><circle cx="584.0" cy="423.6" r="2.3"/><circle cx="585.1" cy="424.4" r="2.3"/><circle cx="586.3" cy="423.1" r="2.3"/><circle cx="587.5" cy="422.2" r="2.3"/><circle cx="588.6" cy="421.3" r="2.3"/><circle cx="589.8" cy="423.3" r="2.3"/><circle cx="591.0" cy="422.6" r="2.3"/><circle cx="592.2" cy="422.8" r="2.3"/><circle cx="593.3" cy="422.3" r="2.3"/><circle cx="594.5" cy="423.7" r="2.3"/><circle cx="595.7" cy="424.3" r="2.3"/><circle cx="596.8" cy="424.0" r="2.3"/><circle cx="598.0" cy="422.4" r="2.3"/><circle cx="599.2" cy="424.2" r="2.3"/><circle cx="600.3" cy="423.5" r="2.3"/><circle cx="601.5" cy="420.5" r="2.3"/><circle cx="602.7" cy="423.5" r="2.3"/><circle cx="603.8" cy="420.7" r="2.3"/><circle cx="605.0" cy="421.5" r="2.3"/><circle cx="606.2" cy="423.5" r="2.3"/><circle cx="607.4" cy="422.9" r="2.3"/><circle cx="608.5" cy="421.5" r="2.3"/><circle cx="609.7" cy="421.1" r="2.3"/><circle cx="610.9" cy="422.2" r="2.3"/><circle cx="612.0" cy="419.9" r="2.3"/><circle cx="613.2" cy="422.0" r="2.3"/><circle cx="614.4" cy="421.1" r="2.3"/><circle cx="615.5" cy="422.0" r="2.3"/><circle cx="616.7" cy="421.0" r="2.3"/><circle cx="617.9" cy="419.9" r="2.3"/><circle cx="619.0" cy="421.0" r="2.3"/><circle cx="620.2" cy="420.3" r="2.3"/><circle cx="621.4" cy="419.1" r="2.3"/><circle cx="622.6" cy="419.2" r="2.3"/><circle cx="623.7" cy="419.2" r="2.3"/><circle cx="624.9" cy="420.1" r="2.3"/><circle cx="626.1" cy="420.7" r="2.3"/><circle cx="627.2" cy="419.8" r="2.3"/><circle cx="628.4" cy="418.5" r="2.3"/><circle cx="629.6" cy="419.1" r="2.3"/><circle cx="630.7" cy="419.9" r="2.3"/><circle cx="631.9" cy="420.4" r="2.3"/><circle cx="633.1" cy="418.5" r="2.3"/><circle cx="634.2" cy="419.8" r="2.3"/><circle cx="635.4" cy="419.2" r="2.3"/><circle cx="636.6" cy="417.5" r="2.3"/><circle cx="637.7" cy="418.4" r="2.3"/><circle cx="638.9" cy="419.2" r="2.3"/><circle cx="640.1" cy="419.3" r="2.3"/><circle cx="641.3" cy="419.5" r="2.3"/><circle cx="642.4" cy="419.4" r="2.3"/><circle cx="643.6" cy="420.4" r="2.3"/><circle cx="644.8" cy="419.2" r="2.3"/><circle cx="645.9" cy="418.6" r="2.3"/><circle cx="647.1" cy="420.8" r="2.3"/><circle cx="648.3" cy="419.7" r="2.3"/><circle cx="649.4" cy="421.2" r="2.3"/><circle cx="650.6" cy="419.6" r="2.3"/><circle cx="651.8" cy="421.9" r="2.3"/><circle cx="652.9" cy="419.4" r="2.3"/><circle cx="654.1" cy="419.5" r="2.3"/><circle cx="655.3" cy="421.5" r="2.3"/><circle cx="656.5" cy="422.8" r="2.3"/><circle cx="657.6" cy="420.3" r="2.3"/><circle cx="658.8" cy="422.8" r="2.3"/><circle cx="660.0" cy="422.9" r="2.3"/><circle cx="661.1" cy="422.4" r="2.3"/><circle cx="662.3" cy="421.5" r="2.3"/><circle cx="663.5" cy="419.7" r="2.3"/><circle cx="664.6" cy="420.5" r="2.3"/><circle cx="665.8" cy="421.4" r="2.3"/><circle cx="667.0" cy="422.8" r="2.3"/><circle cx="668.1" cy="422.3" r="2.3"/><circle cx="669.3" cy="422.0" r="2.3"/><circle cx="670.5" cy="422.9" r="2.3"/><circle cx="671.6" cy="421.3" r="2.3"/><circle cx="672.8" cy="423.4" r="2.3"/><circle cx="674.0" cy="422.3" r="2.3"/><circle cx="675.2" cy="424.6" r="2.3"/><circle cx="676.3" cy="423.7" r="2.3"/><circle cx="677.5" cy="422.9" r="2.3"/><circle cx="678.7" cy="423.2" r="2.3"/><circle cx="679.8" cy="422.2" r="2.3"/><circle cx="681.0" cy="424.0" r="2.3"/><circle cx="682.2" cy="422.9" r="2.3"/><circle cx="683.3" cy="423.9" r="2.3"/><circle cx="684.5" cy="425.2" r="2.3"/><circle cx="685.7" cy="424.5" r="2.3"/><circle cx="686.8" cy="424.7" r="2.3"/><circle cx="688.0" cy="426.9" r="2.3"/><circle cx="689.2" cy="425.0" r="2.3"/><circle cx="690.4" cy="425.5" r="2.3"/><circle cx="691.5" cy="424.2" r="2.3"/><circle cx="692.7" cy="423.4" r="2.3"/><circle cx="693.9" cy="424.9" r="2.3"/><circle cx="695.0" cy="423.5" r="2.3"/><circle cx="696.2" cy="421.8" r="2.3"/><circle cx="697.4" cy="425.4" r="2.3"/><circle cx="698.5" cy="425.2" r="2.3"/><circle cx="699.7" cy="423.9" r="2.3"/><circle cx="700.9" cy="426.3" r="2.3"/><circle cx="702.0" cy="424.9" r="2.3"/><circle cx="703.2" cy="424.5" r="2.3"/><circle cx="704.4" cy="424.0" r="2.3"/><circle cx="705.5" cy="426.2" r="2.3"/><circle cx="706.7" cy="424.6" r="2.3"/><circle cx="707.9" cy="424.5" r="2.3"/><circle cx="709.1" cy="424.5" r="2.3"/><circle cx="710.2" cy="424.2" r="2.3"/><circle cx="711.4" cy="423.3" r="2.3"/><circle cx="712.6" cy="424.3" r="2.3"/><circle cx="713.7" cy="424.1" r="2.3"/><circle cx="714.9" cy="425.7" r="2.3"/><circle cx="716.1" cy="423.7" r="2.3"/><circle cx="717.2" cy="425.7" r="2.3"/><circle cx="718.4" cy="424.5" r="2.3"/><circle cx="719.6" cy="424.2" r="2.3"/><circle cx="720.7" cy="424.8" r="2.3"/><circle cx="721.9" cy="425.0" r="2.3"/><circle cx="723.1" cy="425.1" r="2.3"/><circle cx="724.3" cy="425.6" r="2.3"/><circle cx="725.4" cy="425.3" r="2.3"/><circle cx="726.6" cy="423.6" r="2.3"/><circle cx="727.8" cy="424.6" r="2.3"/><circle cx="728.9" cy="426.9" r="2.3"/><circle cx="730.1" cy="425.3" r="2.3"/><circle cx="731.3" cy="423.1" r="2.3"/><circle cx="732.4" cy="425.7" r="2.3"/><circle cx="733.6" cy="427.3" r="2.3"/><circle cx="734.8" cy="426.8" r="2.3"/><circle cx="735.9" cy="425.7" r="2.3"/><circle cx="737.1" cy="426.0" r="2.3"/><circle cx="738.3" cy="426.5" r="2.3"/><circle cx="739.5" cy="425.7" r="2.3"/><circle cx="740.6" cy="425.4" r="2.3"/><circle cx="741.8" cy="427.6" r="2.3"/><circle cx="743.0" cy="425.6" r="2.3"/><circle cx="744.1" cy="427.1" r="2.3"/><circle cx="745.3" cy="424.6" r="2.3"/><circle cx="746.5" cy="425.4" r="2.3"/><circle cx="747.6" cy="425.1" r="2.3"/><circle cx="748.8" cy="426.7" r="2.3"/><circle cx="750.0" cy="425.7" r="2.3"/><circle cx="751.1" cy="425.8" r="2.3"/><circle cx="752.3" cy="425.5" r="2.3"/><circle cx="753.5" cy="426.7" r="2.3"/><circle cx="754.6" cy="427.5" r="2.3"/><circle cx="755.8" cy="426.0" r="2.3"/><circle cx="757.0" cy="427.3" r="2.3"/><circle cx="758.2" cy="426.7" r="2.3"/><circle cx="759.3" cy="426.2" r="2.3"/><circle cx="760.5" cy="427.2" r="2.3"/><circle cx="761.7" cy="428.2" r="2.3"/><circle cx="762.8" cy="424.3" r="2.3"/><circle cx="764.0" cy="427.7" r="2.3"/><circle cx="503.0" cy="407.0" r="2.3"/><circle cx="508.6" cy="411.4" r="2.3"/></g>
<g fill="none" stroke="#e03438" stroke-width="1.0"><circle cx="413.3" cy="386.6" r="2.3"/><circle cx="414.5" cy="371.5" r="2.3"/><circle cx="415.6" cy="361.3" r="2.3"/><circle cx="416.8" cy="354.1" r="2.3"/><circle cx="418.0" cy="352.1" r="2.3"/><circle cx="419.1" cy="347.6" r="2.3"/><circle cx="420.3" cy="345.1" r="2.3"/><circle cx="421.5" cy="345.4" r="2.3"/><circle cx="422.7" cy="345.0" r="2.3"/><circle cx="423.8" cy="343.3" r="2.3"/><circle cx="425.0" cy="343.3" r="2.3"/><circle cx="426.2" cy="343.8" r="2.3"/><circle cx="427.3" cy="346.3" r="2.3"/><circle cx="428.5" cy="347.3" r="2.3"/><circle cx="429.7" cy="346.4" r="2.3"/><circle cx="430.8" cy="347.2" r="2.3"/><circle cx="432.0" cy="349.2" r="2.3"/><circle cx="433.2" cy="350.1" r="2.3"/><circle cx="434.3" cy="348.4" r="2.3"/><circle cx="435.5" cy="347.6" r="2.3"/><circle cx="436.7" cy="348.7" r="2.3"/><circle cx="437.8" cy="346.0" r="2.3"/><circle cx="439.0" cy="346.0" r="2.3"/><circle cx="440.2" cy="345.7" r="2.3"/><circle cx="441.4" cy="343.5" r="2.3"/><circle cx="442.5" cy="340.9" r="2.3"/><circle cx="443.7" cy="339.6" r="2.3"/><circle cx="444.9" cy="336.0" r="2.3"/><circle cx="446.0" cy="334.5" r="2.3"/><circle cx="447.2" cy="332.2" r="2.3"/><circle cx="448.4" cy="331.3" r="2.3"/><circle cx="449.5" cy="329.7" r="2.3"/><circle cx="450.7" cy="328.8" r="2.3"/><circle cx="451.9" cy="327.4" r="2.3"/><circle cx="453.0" cy="326.9" r="2.3"/><circle cx="454.2" cy="326.3" r="2.3"/><circle cx="455.4" cy="326.0" r="2.3"/><circle cx="456.6" cy="326.7" r="2.3"/><circle cx="457.7" cy="323.2" r="2.3"/><circle cx="458.9" cy="326.3" r="2.3"/><circle cx="460.1" cy="324.5" r="2.3"/><circle cx="461.2" cy="323.3" r="2.3"/><circle cx="462.4" cy="324.4" r="2.3"/><circle cx="463.6" cy="324.7" r="2.3"/><circle cx="464.7" cy="325.9" r="2.3"/><circle cx="465.9" cy="323.8" r="2.3"/><circle cx="467.1" cy="325.4" r="2.3"/><circle cx="468.2" cy="325.4" r="2.3"/><circle cx="469.4" cy="323.7" r="2.3"/><circle cx="470.6" cy="325.5" r="2.3"/><circle cx="471.8" cy="328.8" r="2.3"/><circle cx="472.9" cy="330.2" r="2.3"/><circle cx="474.1" cy="333.0" r="2.3"/><circle cx="475.3" cy="336.3" r="2.3"/><circle cx="476.4" cy="340.1" r="2.3"/><circle cx="477.6" cy="343.7" r="2.3"/><circle cx="478.8" cy="348.4" r="2.3"/><circle cx="479.9" cy="349.7" r="2.3"/><circle cx="481.1" cy="353.9" r="2.3"/><circle cx="482.3" cy="357.9" r="2.3"/><circle cx="483.4" cy="358.9" r="2.3"/><circle cx="484.6" cy="365.2" r="2.3"/><circle cx="485.8" cy="366.0" r="2.3"/><circle cx="486.9" cy="369.9" r="2.3"/><circle cx="488.1" cy="375.5" r="2.3"/><circle cx="489.3" cy="375.3" r="2.3"/><circle cx="490.5" cy="378.7" r="2.3"/><circle cx="491.6" cy="382.1" r="2.3"/><circle cx="492.8" cy="380.4" r="2.3"/><circle cx="494.0" cy="382.3" r="2.3"/><circle cx="495.1" cy="384.5" r="2.3"/><circle cx="496.3" cy="385.5" r="2.3"/><circle cx="497.5" cy="386.5" r="2.3"/><circle cx="498.6" cy="387.1" r="2.3"/><circle cx="499.8" cy="389.0" r="2.3"/><circle cx="501.0" cy="389.5" r="2.3"/><circle cx="502.1" cy="389.8" r="2.3"/><circle cx="503.3" cy="389.3" r="2.3"/><circle cx="504.5" cy="390.1" r="2.3"/><circle cx="505.7" cy="389.6" r="2.3"/><circle cx="506.8" cy="393.4" r="2.3"/><circle cx="508.0" cy="391.7" r="2.3"/><circle cx="509.2" cy="395.7" r="2.3"/><circle cx="510.3" cy="397.8" r="2.3"/><circle cx="511.5" cy="395.6" r="2.3"/><circle cx="512.7" cy="397.0" r="2.3"/><circle cx="513.8" cy="398.2" r="2.3"/><circle cx="515.0" cy="400.7" r="2.3"/><circle cx="516.2" cy="399.8" r="2.3"/><circle cx="517.3" cy="401.6" r="2.3"/><circle cx="518.5" cy="402.1" r="2.3"/><circle cx="519.7" cy="403.3" r="2.3"/><circle cx="520.8" cy="405.8" r="2.3"/><circle cx="522.0" cy="404.2" r="2.3"/><circle cx="523.2" cy="406.3" r="2.3"/><circle cx="524.4" cy="407.4" r="2.3"/><circle cx="525.5" cy="408.9" r="2.3"/><circle cx="526.7" cy="407.5" r="2.3"/><circle cx="527.9" cy="411.0" r="2.3"/><circle cx="529.0" cy="410.8" r="2.3"/><circle cx="530.2" cy="411.8" r="2.3"/><circle cx="531.4" cy="411.4" r="2.3"/><circle cx="532.5" cy="410.0" r="2.3"/><circle cx="533.7" cy="411.6" r="2.3"/><circle cx="534.9" cy="413.7" r="2.3"/><circle cx="536.0" cy="413.3" r="2.3"/><circle cx="537.2" cy="413.7" r="2.3"/><circle cx="538.4" cy="416.2" r="2.3"/><circle cx="539.6" cy="417.2" r="2.3"/><circle cx="540.7" cy="415.2" r="2.3"/><circle cx="541.9" cy="417.8" r="2.3"/><circle cx="543.1" cy="414.0" r="2.3"/><circle cx="544.2" cy="414.4" r="2.3"/><circle cx="545.4" cy="418.0" r="2.3"/><circle cx="546.6" cy="416.9" r="2.3"/><circle cx="547.7" cy="418.0" r="2.3"/><circle cx="548.9" cy="418.1" r="2.3"/><circle cx="550.1" cy="417.7" r="2.3"/><circle cx="551.2" cy="418.7" r="2.3"/><circle cx="552.4" cy="418.3" r="2.3"/><circle cx="553.6" cy="416.6" r="2.3"/><circle cx="554.7" cy="418.7" r="2.3"/><circle cx="555.9" cy="418.8" r="2.3"/><circle cx="557.1" cy="420.8" r="2.3"/><circle cx="558.3" cy="417.7" r="2.3"/><circle cx="559.4" cy="419.2" r="2.3"/><circle cx="560.6" cy="418.8" r="2.3"/><circle cx="561.8" cy="419.3" r="2.3"/><circle cx="562.9" cy="421.5" r="2.3"/><circle cx="564.1" cy="420.2" r="2.3"/><circle cx="565.3" cy="419.5" r="2.3"/><circle cx="566.4" cy="420.3" r="2.3"/><circle cx="567.6" cy="421.2" r="2.3"/><circle cx="568.8" cy="419.4" r="2.3"/><circle cx="569.9" cy="420.4" r="2.3"/><circle cx="571.1" cy="422.5" r="2.3"/><circle cx="572.3" cy="421.9" r="2.3"/><circle cx="573.5" cy="421.1" r="2.3"/><circle cx="574.6" cy="420.8" r="2.3"/><circle cx="575.8" cy="421.3" r="2.3"/><circle cx="577.0" cy="419.9" r="2.3"/><circle cx="578.1" cy="422.8" r="2.3"/><circle cx="579.3" cy="422.3" r="2.3"/><circle cx="580.5" cy="422.3" r="2.3"/><circle cx="581.6" cy="420.8" r="2.3"/><circle cx="582.8" cy="421.6" r="2.3"/><circle cx="584.0" cy="423.2" r="2.3"/><circle cx="585.1" cy="423.0" r="2.3"/><circle cx="586.3" cy="422.4" r="2.3"/><circle cx="587.5" cy="423.6" r="2.3"/><circle cx="588.6" cy="424.3" r="2.3"/><circle cx="589.8" cy="422.6" r="2.3"/><circle cx="591.0" cy="423.0" r="2.3"/><circle cx="592.2" cy="422.8" r="2.3"/><circle cx="593.3" cy="422.8" r="2.3"/><circle cx="594.5" cy="425.2" r="2.3"/><circle cx="595.7" cy="425.2" r="2.3"/><circle cx="596.8" cy="425.3" r="2.3"/><circle cx="598.0" cy="423.9" r="2.3"/><circle cx="599.2" cy="424.4" r="2.3"/><circle cx="600.3" cy="425.7" r="2.3"/><circle cx="601.5" cy="425.6" r="2.3"/><circle cx="602.7" cy="426.5" r="2.3"/><circle cx="603.8" cy="425.9" r="2.3"/><circle cx="605.0" cy="427.7" r="2.3"/><circle cx="606.2" cy="429.2" r="2.3"/><circle cx="607.4" cy="429.2" r="2.3"/><circle cx="608.5" cy="429.6" r="2.3"/><circle cx="609.7" cy="428.2" r="2.3"/><circle cx="610.9" cy="429.4" r="2.3"/><circle cx="612.0" cy="428.1" r="2.3"/><circle cx="613.2" cy="429.7" r="2.3"/><circle cx="614.4" cy="428.3" r="2.3"/><circle cx="615.5" cy="428.3" r="2.3"/><circle cx="616.7" cy="428.2" r="2.3"/><circle cx="617.9" cy="429.8" r="2.3"/><circle cx="619.0" cy="429.5" r="2.3"/><circle cx="620.2" cy="429.5" r="2.3"/><circle cx="621.4" cy="428.1" r="2.3"/><circle cx="622.6" cy="429.6" r="2.3"/><circle cx="623.7" cy="428.0" r="2.3"/><circle cx="624.9" cy="431.3" r="2.3"/><circle cx="626.1" cy="429.6" r="2.3"/><circle cx="627.2" cy="430.1" r="2.3"/><circle cx="628.4" cy="429.8" r="2.3"/><circle cx="629.6" cy="428.3" r="2.3"/><circle cx="630.7" cy="428.6" r="2.3"/><circle cx="631.9" cy="430.1" r="2.3"/><circle cx="633.1" cy="431.8" r="2.3"/><circle cx="634.2" cy="428.9" r="2.3"/><circle cx="635.4" cy="429.3" r="2.3"/><circle cx="636.6" cy="429.9" r="2.3"/><circle cx="637.7" cy="428.1" r="2.3"/><circle cx="638.9" cy="428.0" r="2.3"/><circle cx="640.1" cy="429.4" r="2.3"/><circle cx="641.3" cy="429.8" r="2.3"/><circle cx="642.4" cy="429.3" r="2.3"/><circle cx="643.6" cy="431.4" r="2.3"/><circle cx="644.8" cy="429.5" r="2.3"/><circle cx="645.9" cy="430.0" r="2.3"/><circle cx="647.1" cy="431.3" r="2.3"/><circle cx="648.3" cy="431.4" r="2.3"/><circle cx="649.4" cy="427.7" r="2.3"/><circle cx="650.6" cy="429.0" r="2.3"/><circle cx="651.8" cy="430.7" r="2.3"/><circle cx="652.9" cy="427.8" r="2.3"/><circle cx="654.1" cy="428.3" r="2.3"/><circle cx="655.3" cy="427.9" r="2.3"/><circle cx="656.5" cy="427.9" r="2.3"/><circle cx="657.6" cy="428.2" r="2.3"/><circle cx="658.8" cy="429.7" r="2.3"/><circle cx="660.0" cy="430.9" r="2.3"/><circle cx="661.1" cy="431.3" r="2.3"/><circle cx="662.3" cy="429.6" r="2.3"/><circle cx="663.5" cy="427.5" r="2.3"/><circle cx="664.6" cy="429.6" r="2.3"/><circle cx="665.8" cy="429.4" r="2.3"/><circle cx="667.0" cy="430.2" r="2.3"/><circle cx="668.1" cy="429.7" r="2.3"/><circle cx="669.3" cy="427.9" r="2.3"/><circle cx="670.5" cy="430.4" r="2.3"/><circle cx="671.6" cy="427.7" r="2.3"/><circle cx="672.8" cy="429.3" r="2.3"/><circle cx="674.0" cy="430.4" r="2.3"/><circle cx="675.2" cy="430.5" r="2.3"/><circle cx="676.3" cy="431.9" r="2.3"/><circle cx="677.5" cy="427.5" r="2.3"/><circle cx="678.7" cy="430.3" r="2.3"/><circle cx="679.8" cy="430.5" r="2.3"/><circle cx="681.0" cy="429.2" r="2.3"/><circle cx="682.2" cy="430.0" r="2.3"/><circle cx="683.3" cy="427.9" r="2.3"/><circle cx="684.5" cy="429.7" r="2.3"/><circle cx="685.7" cy="429.4" r="2.3"/><circle cx="686.8" cy="427.5" r="2.3"/><circle cx="688.0" cy="427.6" r="2.3"/><circle cx="689.2" cy="428.0" r="2.3"/><circle cx="690.4" cy="427.3" r="2.3"/><circle cx="691.5" cy="428.9" r="2.3"/><circle cx="692.7" cy="427.8" r="2.3"/><circle cx="693.9" cy="428.9" r="2.3"/><circle cx="695.0" cy="428.5" r="2.3"/><circle cx="696.2" cy="427.1" r="2.3"/><circle cx="697.4" cy="426.6" r="2.3"/><circle cx="698.5" cy="425.6" r="2.3"/><circle cx="699.7" cy="425.6" r="2.3"/><circle cx="700.9" cy="425.5" r="2.3"/><circle cx="702.0" cy="426.7" r="2.3"/><circle cx="703.2" cy="425.2" r="2.3"/><circle cx="704.4" cy="426.2" r="2.3"/><circle cx="705.5" cy="426.3" r="2.3"/><circle cx="706.7" cy="425.4" r="2.3"/><circle cx="707.9" cy="425.7" r="2.3"/><circle cx="709.1" cy="427.4" r="2.3"/><circle cx="710.2" cy="427.5" r="2.3"/><circle cx="711.4" cy="424.8" r="2.3"/><circle cx="712.6" cy="425.4" r="2.3"/><circle cx="713.7" cy="425.2" r="2.3"/><circle cx="714.9" cy="425.2" r="2.3"/><circle cx="716.1" cy="427.1" r="2.3"/><circle cx="717.2" cy="426.1" r="2.3"/><circle cx="718.4" cy="426.7" r="2.3"/><circle cx="719.6" cy="427.2" r="2.3"/><circle cx="720.7" cy="424.6" r="2.3"/><circle cx="721.9" cy="424.9" r="2.3"/><circle cx="723.1" cy="425.1" r="2.3"/><circle cx="724.3" cy="426.2" r="2.3"/><circle cx="725.4" cy="425.1" r="2.3"/><circle cx="726.6" cy="426.0" r="2.3"/><circle cx="727.8" cy="426.7" r="2.3"/><circle cx="728.9" cy="426.8" r="2.3"/><circle cx="730.1" cy="426.1" r="2.3"/><circle cx="731.3" cy="424.8" r="2.3"/><circle cx="732.4" cy="424.1" r="2.3"/><circle cx="733.6" cy="427.1" r="2.3"/><circle cx="734.8" cy="426.5" r="2.3"/><circle cx="735.9" cy="425.0" r="2.3"/><circle cx="737.1" cy="425.6" r="2.3"/><circle cx="738.3" cy="425.8" r="2.3"/><circle cx="739.5" cy="424.5" r="2.3"/><circle cx="740.6" cy="426.7" r="2.3"/><circle cx="741.8" cy="425.6" r="2.3"/><circle cx="743.0" cy="426.2" r="2.3"/><circle cx="744.1" cy="427.3" r="2.3"/><circle cx="745.3" cy="426.4" r="2.3"/><circle cx="746.5" cy="427.2" r="2.3"/><circle cx="747.6" cy="427.1" r="2.3"/><circle cx="748.8" cy="426.7" r="2.3"/><circle cx="750.0" cy="426.7" r="2.3"/><circle cx="751.1" cy="428.7" r="2.3"/><circle cx="752.3" cy="426.5" r="2.3"/><circle cx="753.5" cy="428.5" r="2.3"/><circle cx="754.6" cy="425.8" r="2.3"/><circle cx="755.8" cy="427.6" r="2.3"/><circle cx="757.0" cy="427.0" r="2.3"/><circle cx="758.2" cy="426.1" r="2.3"/><circle cx="759.3" cy="424.0" r="2.3"/><circle cx="760.5" cy="428.7" r="2.3"/><circle cx="761.7" cy="425.7" r="2.3"/><circle cx="762.8" cy="425.9" r="2.3"/><circle cx="764.0" cy="427.1" r="2.3"/><circle cx="517.0" cy="408.6" r="2.3"/></g>
<path d="M581.6,291.5 V388.1 H764.5" fill="none" stroke="#222" stroke-width="1.4"/>
<line x1="576.6" y1="384.50" x2="581.6" y2="384.50" stroke="#222" stroke-width="1.1"/>
<text x="571" y="388.10" font-family="Liberation Sans, Arial, sans-serif" font-size="10" fill="#222" text-anchor="end">0</text>
<line x1="578.6" y1="377.43" x2="581.6" y2="377.43" stroke="#222" stroke-width="1.1"/>
<line x1="578.6" y1="370.36" x2="581.6" y2="370.36" stroke="#222" stroke-width="1.1"/>
<line x1="578.6" y1="363.29" x2="581.6" y2="363.29" stroke="#222" stroke-width="1.1"/>
<line x1="578.6" y1="356.22" x2="581.6" y2="356.22" stroke="#222" stroke-width="1.1"/>
<line x1="576.6" y1="349.15" x2="581.6" y2="349.15" stroke="#222" stroke-width="1.1"/>
<text x="571" y="352.75" font-family="Liberation Sans, Arial, sans-serif" font-size="10" fill="#222" text-anchor="end">50</text>
<line x1="578.6" y1="342.08" x2="581.6" y2="342.08" stroke="#222" stroke-width="1.1"/>
<line x1="578.6" y1="335.01" x2="581.6" y2="335.01" stroke="#222" stroke-width="1.1"/>
<line x1="578.6" y1="327.94" x2="581.6" y2="327.94" stroke="#222" stroke-width="1.1"/>
<line x1="578.6" y1="320.87" x2="581.6" y2="320.87" stroke="#222" stroke-width="1.1"/>
<line x1="576.6" y1="313.80" x2="581.6" y2="313.80" stroke="#222" stroke-width="1.1"/>
<text x="571" y="317.40" font-family="Liberation Sans, Arial, sans-serif" font-size="10" fill="#222" text-anchor="end">100</text>
<line x1="578.6" y1="306.73" x2="581.6" y2="306.73" stroke="#222" stroke-width="1.1"/>
<line x1="578.6" y1="299.66" x2="581.6" y2="299.66" stroke="#222" stroke-width="1.1"/>
<line x1="578.6" y1="292.59" x2="581.6" y2="292.59" stroke="#222" stroke-width="1.1"/>
<line x1="585.60" y1="388.1" x2="585.60" y2="394" stroke="#222" stroke-width="1.1"/>
<text x="585.60" y="409.8" font-family="Liberation Sans, Arial, sans-serif" font-size="10" fill="#222" text-anchor="middle">0</text>
<line x1="615.32" y1="388.1" x2="615.32" y2="394" stroke="#222" stroke-width="1.1"/>
<text x="615.32" y="409.8" font-family="Liberation Sans, Arial, sans-serif" font-size="10" fill="#222" text-anchor="middle">50</text>
<line x1="645.03" y1="388.1" x2="645.03" y2="394" stroke="#222" stroke-width="1.1"/>
<text x="645.03" y="409.8" font-family="Liberation Sans, Arial, sans-serif" font-size="10" fill="#222" text-anchor="middle">100</text>
<line x1="674.75" y1="388.1" x2="674.75" y2="394" stroke="#222" stroke-width="1.1"/>
<text x="674.75" y="409.8" font-family="Liberation Sans, Arial, sans-serif" font-size="10" fill="#222" text-anchor="middle">150</text>
<line x1="704.47" y1="388.1" x2="704.47" y2="394" stroke="#222" stroke-width="1.1"/>
<text x="704.47" y="409.8" font-family="Liberation Sans, Arial, sans-serif" font-size="10" fill="#222" text-anchor="middle">200</text>
<line x1="734.18" y1="388.1" x2="734.18" y2="394" stroke="#222" stroke-width="1.1"/>
<text x="734.18" y="409.8" font-family="Liberation Sans, Arial, sans-serif" font-size="10" fill="#222" text-anchor="middle">250</text>
<line x1="763.90" y1="388.1" x2="763.90" y2="394" stroke="#222" stroke-width="1.1"/>
<text x="763.90" y="409.8" font-family="Liberation Sans, Arial, sans-serif" font-size="10" fill="#222" text-anchor="middle">300</text>
<text transform="translate(550.8,337.8) rotate(-90)" font-family="Liberation Sans, Arial, sans-serif" font-size="10" fill="#111" text-anchor="middle">LFP integral</text>
<g fill="none" stroke="#2424d4" stroke-width="1.15"><circle cx="585.6" cy="315.7" r="2.3"/><circle cx="586.2" cy="305.4" r="2.3"/><circle cx="586.8" cy="298.5" r="2.3"/><circle cx="587.4" cy="295.0" r="2.3"/><circle cx="588.0" cy="295.9" r="2.3"/><circle cx="588.6" cy="293.4" r="2.3"/><circle cx="589.2" cy="296.1" r="2.3"/><circle cx="589.8" cy="297.3" r="2.3"/><circle cx="590.4" cy="300.2" r="2.3"/><circle cx="590.9" cy="300.9" r="2.3"/><circle cx="591.5" cy="302.1" r="2.3"/><circle cx="592.1" cy="305.9" r="2.3"/><circle cx="592.7" cy="308.0" r="2.3"/><circle cx="593.3" cy="307.5" r="2.3"/><circle cx="593.9" cy="310.3" r="2.3"/><circle cx="594.5" cy="310.4" r="2.3"/><circle cx="595.1" cy="312.2" r="2.3"/><circle cx="595.7" cy="313.5" r="2.3"/><circle cx="596.3" cy="312.5" r="2.3"/><circle cx="596.9" cy="313.7" r="2.3"/><circle cx="597.5" cy="312.5" r="2.3"/><circle cx="598.1" cy="312.5" r="2.3"/><circle cx="598.7" cy="313.0" r="2.3"/><circle cx="599.3" cy="311.4" r="2.3"/><circle cx="599.9" cy="311.5" r="2.3"/><circle cx="600.5" cy="312.5" r="2.3"/><circle cx="601.1" cy="312.2" r="2.3"/><circle cx="601.6" cy="311.7" r="2.3"/><circle cx="602.2" cy="309.7" r="2.3"/><circle cx="602.8" cy="310.1" r="2.3"/><circle cx="603.4" cy="310.6" r="2.3"/><circle cx="604.0" cy="310.4" r="2.3"/><circle cx="604.6" cy="308.0" r="2.3"/><circle cx="605.2" cy="307.8" r="2.3"/><circle cx="605.8" cy="310.1" r="2.3"/><circle cx="606.4" cy="311.0" r="2.3"/><circle cx="607.0" cy="309.9" r="2.3"/><circle cx="607.6" cy="311.1" r="2.3"/><circle cx="608.2" cy="310.3" r="2.3"/><circle cx="608.8" cy="309.6" r="2.3"/><circle cx="609.4" cy="309.1" r="2.3"/><circle cx="610.0" cy="308.5" r="2.3"/><circle cx="610.6" cy="307.2" r="2.3"/><circle cx="611.2" cy="308.9" r="2.3"/><circle cx="611.8" cy="307.8" r="2.3"/><circle cx="612.3" cy="307.5" r="2.3"/><circle cx="612.9" cy="309.0" r="2.3"/><circle cx="613.5" cy="309.4" r="2.3"/><circle cx="614.1" cy="312.3" r="2.3"/><circle cx="614.7" cy="312.1" r="2.3"/><circle cx="615.3" cy="315.0" r="2.3"/><circle cx="615.9" cy="317.9" r="2.3"/><circle cx="616.5" cy="319.4" r="2.3"/><circle cx="617.1" cy="320.6" r="2.3"/><circle cx="617.7" cy="320.0" r="2.3"/><circle cx="618.3" cy="323.1" r="2.3"/><circle cx="618.9" cy="323.4" r="2.3"/><circle cx="619.5" cy="326.1" r="2.3"/><circle cx="620.1" cy="325.6" r="2.3"/><circle cx="620.7" cy="328.6" r="2.3"/><circle cx="621.3" cy="328.4" r="2.3"/><circle cx="621.9" cy="329.7" r="2.3"/><circle cx="622.4" cy="329.6" r="2.3"/><circle cx="623.0" cy="330.6" r="2.3"/><circle cx="623.6" cy="331.7" r="2.3"/><circle cx="624.2" cy="334.3" r="2.3"/><circle cx="624.8" cy="334.0" r="2.3"/><circle cx="625.4" cy="335.5" r="2.3"/><circle cx="626.0" cy="338.0" r="2.3"/><circle cx="626.6" cy="338.5" r="2.3"/><circle cx="627.2" cy="338.9" r="2.3"/><circle cx="627.8" cy="340.4" r="2.3"/><circle cx="628.4" cy="339.7" r="2.3"/><circle cx="629.0" cy="340.6" r="2.3"/><circle cx="629.6" cy="343.6" r="2.3"/><circle cx="630.2" cy="346.9" r="2.3"/><circle cx="630.8" cy="347.1" r="2.3"/><circle cx="631.4" cy="348.3" r="2.3"/><circle cx="632.0" cy="347.1" r="2.3"/><circle cx="632.6" cy="346.7" r="2.3"/><circle cx="633.1" cy="349.0" r="2.3"/><circle cx="633.7" cy="347.4" r="2.3"/><circle cx="634.3" cy="346.5" r="2.3"/><circle cx="634.9" cy="350.2" r="2.3"/><circle cx="635.5" cy="351.3" r="2.3"/><circle cx="636.1" cy="351.4" r="2.3"/><circle cx="636.7" cy="352.7" r="2.3"/><circle cx="637.3" cy="352.4" r="2.3"/><circle cx="637.9" cy="352.4" r="2.3"/><circle cx="638.5" cy="351.5" r="2.3"/><circle cx="639.1" cy="352.9" r="2.3"/><circle cx="639.7" cy="352.3" r="2.3"/><circle cx="640.3" cy="353.6" r="2.3"/><circle cx="640.9" cy="356.3" r="2.3"/><circle cx="641.5" cy="355.1" r="2.3"/><circle cx="642.1" cy="355.7" r="2.3"/><circle cx="642.7" cy="355.1" r="2.3"/><circle cx="643.3" cy="358.5" r="2.3"/><circle cx="643.8" cy="354.1" r="2.3"/><circle cx="644.4" cy="355.3" r="2.3"/><circle cx="645.0" cy="357.3" r="2.3"/><circle cx="645.6" cy="355.8" r="2.3"/><circle cx="646.2" cy="355.9" r="2.3"/><circle cx="646.8" cy="357.3" r="2.3"/><circle cx="647.4" cy="357.7" r="2.3"/><circle cx="648.0" cy="357.6" r="2.3"/><circle cx="648.6" cy="356.0" r="2.3"/><circle cx="649.2" cy="357.6" r="2.3"/><circle cx="649.8" cy="355.6" r="2.3"/><circle cx="650.4" cy="355.8" r="2.3"/><circle cx="651.0" cy="355.7" r="2.3"/><circle cx="651.6" cy="356.9" r="2.3"/><circle cx="652.2" cy="356.2" r="2.3"/><circle cx="652.8" cy="355.5" r="2.3"/><circle cx="653.4" cy="356.5" r="2.3"/><circle cx="653.9" cy="355.4" r="2.3"/><circle cx="654.5" cy="355.8" r="2.3"/><circle cx="655.1" cy="356.0" r="2.3"/><circle cx="655.7" cy="355.6" r="2.3"/><circle cx="656.3" cy="355.2" r="2.3"/><circle cx="656.9" cy="354.9" r="2.3"/><circle cx="657.5" cy="357.1" r="2.3"/><circle cx="658.1" cy="353.9" r="2.3"/><circle cx="658.7" cy="356.3" r="2.3"/><circle cx="659.3" cy="355.3" r="2.3"/><circle cx="659.9" cy="355.4" r="2.3"/><circle cx="660.5" cy="354.3" r="2.3"/><circle cx="661.1" cy="356.1" r="2.3"/><circle cx="661.7" cy="355.6" r="2.3"/><circle cx="662.3" cy="357.2" r="2.3"/><circle cx="662.9" cy="355.6" r="2.3"/><circle cx="663.5" cy="355.1" r="2.3"/><circle cx="664.1" cy="355.1" r="2.3"/><circle cx="664.6" cy="357.2" r="2.3"/><circle cx="665.2" cy="356.9" r="2.3"/><circle cx="665.8" cy="356.0" r="2.3"/><circle cx="666.4" cy="358.0" r="2.3"/><circle cx="667.0" cy="356.7" r="2.3"/><circle cx="667.6" cy="356.1" r="2.3"/><circle cx="668.2" cy="357.0" r="2.3"/><circle cx="668.8" cy="355.4" r="2.3"/><circle cx="669.4" cy="356.6" r="2.3"/><circle cx="670.0" cy="355.4" r="2.3"/><circle cx="670.6" cy="357.1" r="2.3"/><circle cx="671.2" cy="357.2" r="2.3"/><circle cx="671.8" cy="356.5" r="2.3"/><circle cx="672.4" cy="357.7" r="2.3"/><circle cx="673.0" cy="356.0" r="2.3"/><circle cx="673.6" cy="357.3" r="2.3"/><circle cx="674.2" cy="356.7" r="2.3"/><circle cx="674.8" cy="355.7" r="2.3"/><circle cx="675.3" cy="357.6" r="2.3"/><circle cx="675.9" cy="358.7" r="2.3"/><circle cx="676.5" cy="360.1" r="2.3"/><circle cx="677.1" cy="357.2" r="2.3"/><circle cx="677.7" cy="357.7" r="2.3"/><circle cx="678.3" cy="358.9" r="2.3"/><circle cx="678.9" cy="356.2" r="2.3"/><circle cx="679.5" cy="358.9" r="2.3"/><circle cx="680.1" cy="355.7" r="2.3"/><circle cx="680.7" cy="356.3" r="2.3"/><circle cx="681.3" cy="357.3" r="2.3"/><circle cx="681.9" cy="357.2" r="2.3"/><circle cx="682.5" cy="358.6" r="2.3"/><circle cx="683.1" cy="356.6" r="2.3"/><circle cx="683.7" cy="357.6" r="2.3"/><circle cx="684.3" cy="357.5" r="2.3"/><circle cx="684.9" cy="358.0" r="2.3"/><circle cx="685.4" cy="358.6" r="2.3"/><circle cx="686.0" cy="358.9" r="2.3"/><circle cx="686.6" cy="358.4" r="2.3"/><circle cx="687.2" cy="358.6" r="2.3"/><circle cx="687.8" cy="358.4" r="2.3"/><circle cx="688.4" cy="356.9" r="2.3"/><circle cx="689.0" cy="356.8" r="2.3"/><circle cx="689.6" cy="359.1" r="2.3"/><circle cx="690.2" cy="357.5" r="2.3"/><circle cx="690.8" cy="358.2" r="2.3"/><circle cx="691.4" cy="359.3" r="2.3"/><circle cx="692.0" cy="358.8" r="2.3"/><circle cx="692.6" cy="358.5" r="2.3"/><circle cx="693.2" cy="358.5" r="2.3"/><circle cx="693.8" cy="359.6" r="2.3"/><circle cx="694.4" cy="361.1" r="2.3"/><circle cx="695.0" cy="358.1" r="2.3"/><circle cx="695.6" cy="359.7" r="2.3"/><circle cx="696.1" cy="361.0" r="2.3"/><circle cx="696.7" cy="360.4" r="2.3"/><circle cx="697.3" cy="359.7" r="2.3"/><circle cx="697.9" cy="360.4" r="2.3"/><circle cx="698.5" cy="360.9" r="2.3"/><circle cx="699.1" cy="361.6" r="2.3"/><circle cx="699.7" cy="359.1" r="2.3"/><circle cx="700.3" cy="360.0" r="2.3"/><circle cx="700.9" cy="361.2" r="2.3"/><circle cx="701.5" cy="361.5" r="2.3"/><circle cx="702.1" cy="361.4" r="2.3"/><circle cx="702.7" cy="361.7" r="2.3"/><circle cx="703.3" cy="362.3" r="2.3"/><circle cx="703.9" cy="362.0" r="2.3"/><circle cx="704.5" cy="364.2" r="2.3"/><circle cx="705.1" cy="361.1" r="2.3"/><circle cx="705.7" cy="361.5" r="2.3"/><circle cx="706.2" cy="360.5" r="2.3"/><circle cx="706.8" cy="362.7" r="2.3"/><circle cx="707.4" cy="362.4" r="2.3"/><circle cx="708.0" cy="362.1" r="2.3"/><circle cx="708.6" cy="361.3" r="2.3"/><circle cx="709.2" cy="364.5" r="2.3"/><circle cx="709.8" cy="363.0" r="2.3"/><circle cx="710.4" cy="363.6" r="2.3"/><circle cx="711.0" cy="361.5" r="2.3"/><circle cx="711.6" cy="363.3" r="2.3"/><circle cx="712.2" cy="363.6" r="2.3"/><circle cx="712.8" cy="364.9" r="2.3"/><circle cx="713.4" cy="363.9" r="2.3"/><circle cx="714.0" cy="364.5" r="2.3"/><circle cx="714.6" cy="361.9" r="2.3"/><circle cx="715.2" cy="363.3" r="2.3"/><circle cx="715.8" cy="363.7" r="2.3"/><circle cx="716.4" cy="363.6" r="2.3"/><circle cx="716.9" cy="363.5" r="2.3"/><circle cx="717.5" cy="363.5" r="2.3"/><circle cx="718.1" cy="365.2" r="2.3"/><circle cx="718.7" cy="363.5" r="2.3"/><circle cx="719.3" cy="364.7" r="2.3"/><circle cx="719.9" cy="364.8" r="2.3"/><circle cx="720.5" cy="363.8" r="2.3"/><circle cx="721.1" cy="364.4" r="2.3"/><circle cx="721.7" cy="361.9" r="2.3"/><circle cx="722.3" cy="363.7" r="2.3"/><circle cx="722.9" cy="365.5" r="2.3"/><circle cx="723.5" cy="363.9" r="2.3"/><circle cx="724.1" cy="362.5" r="2.3"/><circle cx="724.7" cy="365.6" r="2.3"/><circle cx="725.3" cy="363.4" r="2.3"/><circle cx="725.9" cy="366.1" r="2.3"/><circle cx="726.5" cy="364.8" r="2.3"/><circle cx="727.1" cy="363.6" r="2.3"/><circle cx="727.6" cy="364.3" r="2.3"/><circle cx="728.2" cy="366.6" r="2.3"/><circle cx="728.8" cy="365.4" r="2.3"/><circle cx="729.4" cy="365.2" r="2.3"/><circle cx="730.0" cy="365.6" r="2.3"/><circle cx="730.6" cy="365.3" r="2.3"/><circle cx="731.2" cy="365.0" r="2.3"/><circle cx="731.8" cy="366.4" r="2.3"/><circle cx="732.4" cy="367.3" r="2.3"/><circle cx="733.0" cy="366.1" r="2.3"/><circle cx="733.6" cy="367.7" r="2.3"/><circle cx="734.2" cy="367.3" r="2.3"/><circle cx="734.8" cy="364.8" r="2.3"/><circle cx="735.4" cy="367.2" r="2.3"/><circle cx="736.0" cy="367.9" r="2.3"/><circle cx="736.6" cy="364.7" r="2.3"/><circle cx="737.2" cy="366.3" r="2.3"/><circle cx="737.7" cy="367.4" r="2.3"/><circle cx="738.3" cy="366.2" r="2.3"/><circle cx="738.9" cy="367.2" r="2.3"/><circle cx="739.5" cy="367.0" r="2.3"/><circle cx="740.1" cy="366.4" r="2.3"/><circle cx="740.7" cy="367.3" r="2.3"/><circle cx="741.3" cy="367.2" r="2.3"/><circle cx="741.9" cy="367.6" r="2.3"/><circle cx="742.5" cy="367.7" r="2.3"/><circle cx="743.1" cy="367.2" r="2.3"/><circle cx="743.7" cy="367.1" r="2.3"/><circle cx="744.3" cy="367.4" r="2.3"/><circle cx="744.9" cy="368.6" r="2.3"/><circle cx="745.5" cy="367.2" r="2.3"/><circle cx="746.1" cy="369.6" r="2.3"/><circle cx="746.7" cy="367.4" r="2.3"/><circle cx="747.3" cy="370.3" r="2.3"/><circle cx="747.9" cy="368.3" r="2.3"/><circle cx="748.4" cy="368.1" r="2.3"/><circle cx="749.0" cy="368.1" r="2.3"/><circle cx="749.6" cy="369.2" r="2.3"/><circle cx="750.2" cy="369.0" r="2.3"/><circle cx="750.8" cy="368.0" r="2.3"/><circle cx="751.4" cy="369.2" r="2.3"/><circle cx="752.0" cy="369.6" r="2.3"/><circle cx="752.6" cy="369.4" r="2.3"/><circle cx="753.2" cy="370.6" r="2.3"/><circle cx="753.8" cy="366.9" r="2.3"/><circle cx="754.4" cy="369.3" r="2.3"/><circle cx="755.0" cy="368.9" r="2.3"/><circle cx="755.6" cy="370.1" r="2.3"/><circle cx="756.2" cy="371.7" r="2.3"/><circle cx="756.8" cy="368.4" r="2.3"/><circle cx="757.4" cy="369.0" r="2.3"/><circle cx="758.0" cy="369.7" r="2.3"/><circle cx="758.6" cy="371.0" r="2.3"/><circle cx="759.1" cy="371.1" r="2.3"/><circle cx="759.7" cy="369.4" r="2.3"/><circle cx="760.3" cy="371.1" r="2.3"/><circle cx="760.9" cy="370.2" r="2.3"/><circle cx="761.5" cy="371.4" r="2.3"/><circle cx="762.1" cy="370.5" r="2.3"/><circle cx="762.7" cy="371.0" r="2.3"/><circle cx="763.3" cy="370.6" r="2.3"/><circle cx="763.9" cy="369.7" r="2.3"/><circle cx="585.6" cy="335.9" r="2.3"/></g>
<g fill="none" stroke="#e62020" stroke-width="1.15"><circle cx="585.6" cy="363.0" r="2.3"/><circle cx="585.8" cy="354.6" r="2.3"/><circle cx="586.8" cy="343.8" r="2.3"/><circle cx="587.4" cy="341.1" r="2.3"/><circle cx="588.0" cy="339.3" r="2.3"/><circle cx="588.6" cy="337.9" r="2.3"/><circle cx="589.2" cy="338.9" r="2.3"/><circle cx="589.8" cy="335.9" r="2.3"/><circle cx="590.4" cy="337.3" r="2.3"/><circle cx="590.9" cy="336.2" r="2.3"/><circle cx="591.5" cy="336.9" r="2.3"/><circle cx="592.1" cy="336.8" r="2.3"/><circle cx="592.7" cy="337.7" r="2.3"/><circle cx="593.3" cy="338.0" r="2.3"/><circle cx="593.9" cy="336.2" r="2.3"/><circle cx="594.5" cy="338.4" r="2.3"/><circle cx="595.1" cy="338.0" r="2.3"/><circle cx="595.7" cy="338.4" r="2.3"/><circle cx="596.3" cy="338.8" r="2.3"/><circle cx="596.9" cy="335.8" r="2.3"/><circle cx="597.5" cy="339.2" r="2.3"/><circle cx="598.1" cy="335.7" r="2.3"/><circle cx="598.7" cy="336.4" r="2.3"/><circle cx="599.3" cy="336.9" r="2.3"/><circle cx="599.9" cy="337.1" r="2.3"/><circle cx="600.5" cy="336.2" r="2.3"/><circle cx="601.1" cy="335.4" r="2.3"/><circle cx="601.6" cy="335.1" r="2.3"/><circle cx="602.2" cy="332.9" r="2.3"/><circle cx="602.8" cy="333.6" r="2.3"/><circle cx="603.4" cy="335.6" r="2.3"/><circle cx="604.0" cy="330.2" r="2.3"/><circle cx="604.6" cy="332.0" r="2.3"/><circle cx="605.2" cy="331.7" r="2.3"/><circle cx="605.8" cy="330.5" r="2.3"/><circle cx="606.4" cy="330.8" r="2.3"/><circle cx="607.0" cy="330.7" r="2.3"/><circle cx="607.6" cy="330.2" r="2.3"/><circle cx="608.2" cy="330.3" r="2.3"/><circle cx="608.8" cy="329.2" r="2.3"/><circle cx="609.4" cy="330.8" r="2.3"/><circle cx="610.0" cy="329.5" r="2.3"/><circle cx="610.6" cy="329.1" r="2.3"/><circle cx="611.2" cy="332.7" r="2.3"/><circle cx="611.8" cy="330.4" r="2.3"/><circle cx="612.3" cy="330.9" r="2.3"/><circle cx="612.9" cy="329.9" r="2.3"/><circle cx="613.5" cy="332.6" r="2.3"/><circle cx="614.1" cy="331.6" r="2.3"/><circle cx="614.7" cy="332.9" r="2.3"/><circle cx="615.3" cy="335.2" r="2.3"/><circle cx="615.9" cy="335.9" r="2.3"/><circle cx="616.5" cy="335.6" r="2.3"/><circle cx="617.1" cy="337.7" r="2.3"/><circle cx="617.7" cy="338.6" r="2.3"/><circle cx="618.3" cy="339.0" r="2.3"/><circle cx="618.9" cy="339.2" r="2.3"/><circle cx="619.5" cy="341.6" r="2.3"/><circle cx="620.1" cy="340.6" r="2.3"/><circle cx="620.7" cy="343.5" r="2.3"/><circle cx="621.3" cy="344.0" r="2.3"/><circle cx="621.9" cy="343.4" r="2.3"/><circle cx="622.4" cy="344.3" r="2.3"/><circle cx="623.0" cy="348.5" r="2.3"/><circle cx="623.6" cy="344.6" r="2.3"/><circle cx="624.2" cy="347.4" r="2.3"/><circle cx="624.8" cy="347.7" r="2.3"/><circle cx="625.4" cy="349.1" r="2.3"/><circle cx="626.0" cy="349.7" r="2.3"/><circle cx="626.6" cy="350.8" r="2.3"/><circle cx="627.2" cy="351.1" r="2.3"/><circle cx="627.8" cy="350.9" r="2.3"/><circle cx="628.4" cy="350.0" r="2.3"/><circle cx="629.0" cy="351.6" r="2.3"/><circle cx="629.6" cy="353.0" r="2.3"/><circle cx="630.2" cy="353.5" r="2.3"/><circle cx="630.8" cy="354.6" r="2.3"/><circle cx="631.4" cy="353.7" r="2.3"/><circle cx="632.0" cy="353.0" r="2.3"/><circle cx="632.6" cy="354.1" r="2.3"/><circle cx="633.1" cy="355.3" r="2.3"/><circle cx="633.7" cy="356.4" r="2.3"/><circle cx="634.3" cy="356.8" r="2.3"/><circle cx="634.9" cy="357.0" r="2.3"/><circle cx="635.5" cy="355.3" r="2.3"/><circle cx="636.1" cy="356.5" r="2.3"/><circle cx="636.7" cy="357.9" r="2.3"/><circle cx="637.3" cy="358.1" r="2.3"/><circle cx="637.9" cy="359.0" r="2.3"/><circle cx="638.5" cy="357.3" r="2.3"/><circle cx="639.1" cy="359.6" r="2.3"/><circle cx="639.7" cy="356.6" r="2.3"/><circle cx="640.3" cy="359.2" r="2.3"/><circle cx="640.9" cy="360.2" r="2.3"/><circle cx="641.5" cy="360.2" r="2.3"/><circle cx="642.1" cy="361.8" r="2.3"/><circle cx="642.7" cy="361.1" r="2.3"/><circle cx="643.3" cy="361.8" r="2.3"/><circle cx="643.8" cy="362.8" r="2.3"/><circle cx="644.4" cy="361.7" r="2.3"/><circle cx="645.0" cy="364.5" r="2.3"/><circle cx="645.6" cy="362.6" r="2.3"/><circle cx="646.2" cy="364.2" r="2.3"/><circle cx="646.8" cy="364.1" r="2.3"/><circle cx="647.4" cy="363.7" r="2.3"/><circle cx="648.0" cy="364.6" r="2.3"/><circle cx="648.6" cy="365.1" r="2.3"/><circle cx="649.2" cy="364.6" r="2.3"/><circle cx="649.8" cy="367.5" r="2.3"/><circle cx="650.4" cy="364.6" r="2.3"/><circle cx="651.0" cy="365.9" r="2.3"/><circle cx="651.6" cy="367.4" r="2.3"/><circle cx="652.2" cy="367.0" r="2.3"/><circle cx="652.8" cy="367.8" r="2.3"/><circle cx="653.4" cy="365.2" r="2.3"/><circle cx="653.9" cy="366.6" r="2.3"/><circle cx="654.5" cy="367.0" r="2.3"/><circle cx="655.1" cy="368.3" r="2.3"/><circle cx="655.7" cy="366.3" r="2.3"/><circle cx="656.3" cy="367.2" r="2.3"/><circle cx="656.9" cy="369.2" r="2.3"/><circle cx="657.5" cy="367.8" r="2.3"/><circle cx="658.1" cy="367.9" r="2.3"/><circle cx="658.7" cy="367.5" r="2.3"/><circle cx="659.3" cy="368.9" r="2.3"/><circle cx="659.9" cy="365.9" r="2.3"/><circle cx="660.5" cy="367.2" r="2.3"/><circle cx="661.1" cy="367.6" r="2.3"/><circle cx="661.7" cy="368.6" r="2.3"/><circle cx="662.3" cy="368.7" r="2.3"/><circle cx="662.9" cy="366.8" r="2.3"/><circle cx="663.5" cy="369.2" r="2.3"/><circle cx="664.1" cy="368.5" r="2.3"/><circle cx="664.6" cy="372.4" r="2.3"/><circle cx="665.2" cy="369.5" r="2.3"/><circle cx="665.8" cy="371.1" r="2.3"/><circle cx="666.4" cy="369.7" r="2.3"/><circle cx="667.0" cy="370.2" r="2.3"/><circle cx="667.6" cy="369.9" r="2.3"/><circle cx="668.2" cy="371.8" r="2.3"/><circle cx="668.8" cy="372.5" r="2.3"/><circle cx="669.4" cy="370.1" r="2.3"/><circle cx="670.0" cy="372.1" r="2.3"/><circle cx="670.6" cy="372.6" r="2.3"/><circle cx="671.2" cy="373.5" r="2.3"/><circle cx="671.8" cy="371.8" r="2.3"/><circle cx="672.4" cy="374.1" r="2.3"/><circle cx="673.0" cy="371.6" r="2.3"/><circle cx="673.6" cy="373.2" r="2.3"/><circle cx="674.2" cy="372.7" r="2.3"/><circle cx="674.8" cy="373.1" r="2.3"/><circle cx="675.3" cy="374.7" r="2.3"/><circle cx="675.9" cy="374.3" r="2.3"/><circle cx="676.5" cy="376.8" r="2.3"/><circle cx="677.1" cy="374.0" r="2.3"/><circle cx="677.7" cy="373.5" r="2.3"/><circle cx="678.3" cy="375.6" r="2.3"/><circle cx="678.9" cy="374.9" r="2.3"/><circle cx="679.5" cy="374.4" r="2.3"/><circle cx="680.1" cy="376.3" r="2.3"/><circle cx="680.7" cy="376.6" r="2.3"/><circle cx="681.3" cy="373.9" r="2.3"/><circle cx="681.9" cy="375.2" r="2.3"/><circle cx="682.5" cy="376.9" r="2.3"/><circle cx="683.1" cy="375.1" r="2.3"/><circle cx="683.7" cy="377.8" r="2.3"/><circle cx="684.3" cy="376.1" r="2.3"/><circle cx="684.9" cy="376.9" r="2.3"/><circle cx="685.4" cy="376.8" r="2.3"/><circle cx="686.0" cy="375.7" r="2.3"/><circle cx="686.6" cy="376.7" r="2.3"/><circle cx="687.2" cy="376.2" r="2.3"/><circle cx="687.8" cy="376.5" r="2.3"/><circle cx="688.4" cy="378.1" r="2.3"/><circle cx="689.0" cy="377.7" r="2.3"/><circle cx="689.6" cy="376.9" r="2.3"/><circle cx="690.2" cy="377.5" r="2.3"/><circle cx="690.8" cy="378.8" r="2.3"/><circle cx="691.4" cy="377.3" r="2.3"/><circle cx="692.0" cy="377.0" r="2.3"/><circle cx="692.6" cy="378.2" r="2.3"/><circle cx="693.2" cy="376.9" r="2.3"/><circle cx="693.8" cy="376.3" r="2.3"/><circle cx="694.4" cy="379.5" r="2.3"/><circle cx="695.0" cy="376.5" r="2.3"/><circle cx="695.6" cy="377.9" r="2.3"/><circle cx="696.1" cy="378.2" r="2.3"/><circle cx="696.7" cy="377.5" r="2.3"/><circle cx="697.3" cy="379.8" r="2.3"/><circle cx="697.9" cy="379.9" r="2.3"/><circle cx="698.5" cy="378.4" r="2.3"/><circle cx="699.1" cy="376.5" r="2.3"/><circle cx="699.7" cy="378.5" r="2.3"/><circle cx="700.3" cy="376.4" r="2.3"/><circle cx="700.9" cy="378.7" r="2.3"/><circle cx="701.5" cy="379.0" r="2.3"/><circle cx="702.1" cy="378.4" r="2.3"/><circle cx="702.7" cy="379.3" r="2.3"/><circle cx="703.3" cy="378.2" r="2.3"/><circle cx="703.9" cy="377.1" r="2.3"/><circle cx="704.5" cy="377.5" r="2.3"/><circle cx="705.1" cy="379.1" r="2.3"/><circle cx="705.7" cy="375.7" r="2.3"/><circle cx="706.2" cy="378.1" r="2.3"/><circle cx="706.8" cy="376.5" r="2.3"/><circle cx="707.4" cy="380.1" r="2.3"/><circle cx="708.0" cy="376.2" r="2.3"/><circle cx="708.6" cy="375.3" r="2.3"/><circle cx="709.2" cy="378.6" r="2.3"/><circle cx="709.8" cy="378.5" r="2.3"/><circle cx="710.4" cy="376.8" r="2.3"/><circle cx="711.0" cy="377.3" r="2.3"/><circle cx="711.6" cy="376.1" r="2.3"/><circle cx="712.2" cy="377.2" r="2.3"/><circle cx="712.8" cy="378.3" r="2.3"/><circle cx="713.4" cy="377.7" r="2.3"/><circle cx="714.0" cy="377.3" r="2.3"/><circle cx="714.6" cy="376.7" r="2.3"/><circle cx="715.2" cy="378.4" r="2.3"/><circle cx="715.8" cy="379.1" r="2.3"/><circle cx="716.4" cy="378.7" r="2.3"/><circle cx="716.9" cy="375.8" r="2.3"/><circle cx="717.5" cy="377.3" r="2.3"/><circle cx="718.1" cy="376.2" r="2.3"/><circle cx="718.7" cy="376.6" r="2.3"/><circle cx="719.3" cy="377.3" r="2.3"/><circle cx="719.9" cy="379.6" r="2.3"/><circle cx="720.5" cy="377.1" r="2.3"/><circle cx="721.1" cy="376.7" r="2.3"/><circle cx="721.7" cy="376.1" r="2.3"/><circle cx="722.3" cy="377.2" r="2.3"/><circle cx="722.9" cy="374.8" r="2.3"/><circle cx="723.5" cy="377.2" r="2.3"/><circle cx="724.1" cy="377.3" r="2.3"/><circle cx="724.7" cy="375.3" r="2.3"/><circle cx="725.3" cy="377.9" r="2.3"/><circle cx="725.9" cy="378.5" r="2.3"/><circle cx="726.5" cy="375.3" r="2.3"/><circle cx="727.1" cy="376.8" r="2.3"/><circle cx="727.6" cy="375.5" r="2.3"/><circle cx="728.2" cy="375.2" r="2.3"/><circle cx="728.8" cy="376.9" r="2.3"/><circle cx="729.4" cy="376.5" r="2.3"/><circle cx="730.0" cy="374.9" r="2.3"/><circle cx="730.6" cy="374.7" r="2.3"/><circle cx="731.2" cy="376.6" r="2.3"/><circle cx="731.8" cy="375.0" r="2.3"/><circle cx="732.4" cy="375.3" r="2.3"/><circle cx="733.0" cy="376.4" r="2.3"/><circle cx="733.6" cy="376.3" r="2.3"/><circle cx="734.2" cy="377.3" r="2.3"/><circle cx="734.8" cy="379.0" r="2.3"/><circle cx="735.4" cy="375.7" r="2.3"/><circle cx="736.0" cy="378.7" r="2.3"/><circle cx="736.6" cy="375.8" r="2.3"/><circle cx="737.2" cy="377.4" r="2.3"/><circle cx="737.7" cy="378.5" r="2.3"/><circle cx="738.3" cy="380.0" r="2.3"/><circle cx="738.9" cy="375.9" r="2.3"/><circle cx="739.5" cy="379.5" r="2.3"/><circle cx="740.1" cy="377.7" r="2.3"/><circle cx="740.7" cy="378.1" r="2.3"/><circle cx="741.3" cy="378.6" r="2.3"/><circle cx="741.9" cy="380.1" r="2.3"/><circle cx="742.5" cy="380.7" r="2.3"/><circle cx="743.1" cy="378.7" r="2.3"/><circle cx="743.7" cy="377.8" r="2.3"/><circle cx="744.3" cy="377.7" r="2.3"/><circle cx="744.9" cy="376.3" r="2.3"/><circle cx="745.5" cy="377.0" r="2.3"/><circle cx="746.1" cy="379.9" r="2.3"/><circle cx="746.7" cy="377.1" r="2.3"/><circle cx="747.3" cy="377.6" r="2.3"/><circle cx="747.9" cy="378.4" r="2.3"/><circle cx="748.4" cy="378.4" r="2.3"/><circle cx="749.0" cy="378.3" r="2.3"/><circle cx="749.6" cy="378.2" r="2.3"/><circle cx="750.2" cy="378.8" r="2.3"/><circle cx="750.8" cy="381.0" r="2.3"/><circle cx="751.4" cy="380.3" r="2.3"/><circle cx="752.0" cy="379.8" r="2.3"/><circle cx="752.6" cy="379.1" r="2.3"/><circle cx="753.2" cy="380.0" r="2.3"/><circle cx="753.8" cy="380.3" r="2.3"/><circle cx="754.4" cy="379.2" r="2.3"/><circle cx="755.0" cy="379.0" r="2.3"/><circle cx="755.6" cy="380.6" r="2.3"/><circle cx="756.2" cy="379.6" r="2.3"/><circle cx="756.8" cy="379.6" r="2.3"/><circle cx="757.4" cy="380.4" r="2.3"/><circle cx="758.0" cy="380.4" r="2.3"/><circle cx="758.6" cy="379.5" r="2.3"/><circle cx="759.1" cy="382.2" r="2.3"/><circle cx="759.7" cy="380.9" r="2.3"/><circle cx="760.3" cy="380.4" r="2.3"/><circle cx="760.9" cy="381.4" r="2.3"/><circle cx="761.5" cy="382.1" r="2.3"/><circle cx="762.1" cy="380.7" r="2.3"/><circle cx="762.7" cy="378.1" r="2.3"/><circle cx="763.3" cy="379.5" r="2.3"/><circle cx="763.9" cy="380.7" r="2.3"/><circle cx="638.0" cy="364.2" r="2.3"/></g></svg>
</body></html>
